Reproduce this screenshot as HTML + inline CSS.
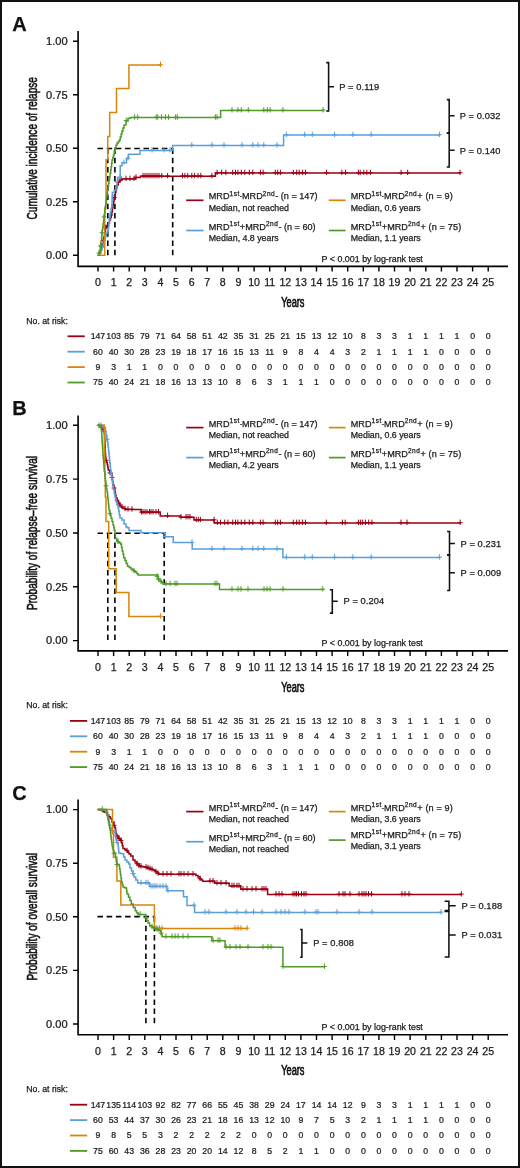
<!DOCTYPE html>
<html><head><meta charset="utf-8"><style>
html,body{margin:0;padding:0;background:#fff;}
svg{display:block;will-change:transform;}
text{font-family:"Liberation Sans", sans-serif;stroke:#1a1a1a;stroke-width:0.25px;}
</style></head><body>
<svg width="520" height="1168" viewBox="0 0 520 1168" font-family='"Liberation Sans", sans-serif'>
<rect x="0" y="0" width="520" height="1168" fill="#fff"/>
<text x="12.3" y="30.9" font-size="20" font-weight="bold" fill="#111">A</text>
<path d="M78.1,31.0 V266.4 H508" fill="none" stroke="#000" stroke-width="1.6"/>
<path d="M73,255.3 H78 M73,201.8 H78 M73,148.3 H78 M73,94.8 H78 M73,41.3 H78 M98.0,266.4 V271.6 M113.6,266.4 V271.6 M129.2,266.4 V271.6 M144.8,266.4 V271.6 M160.4,266.4 V271.6 M176.0,266.4 V271.6 M191.6,266.4 V271.6 M207.2,266.4 V271.6 M222.8,266.4 V271.6 M238.4,266.4 V271.6 M254.1,266.4 V271.6 M269.7,266.4 V271.6 M285.3,266.4 V271.6 M300.9,266.4 V271.6 M316.5,266.4 V271.6 M332.1,266.4 V271.6 M347.7,266.4 V271.6 M363.3,266.4 V271.6 M378.9,266.4 V271.6 M394.5,266.4 V271.6 M410.1,266.4 V271.6 M425.8,266.4 V271.6 M441.4,266.4 V271.6 M457.0,266.4 V271.6 M472.6,266.4 V271.6 M488.2,266.4 V271.6" stroke="#000" stroke-width="1.4" fill="none"/>
<text transform="translate(67.6,259.0) scale(1.045,1)" font-size="10.6" text-anchor="end" fill="#1a1a1a">0.00</text>
<text transform="translate(67.6,205.5) scale(1.045,1)" font-size="10.6" text-anchor="end" fill="#1a1a1a">0.25</text>
<text transform="translate(67.6,152.0) scale(1.045,1)" font-size="10.6" text-anchor="end" fill="#1a1a1a">0.50</text>
<text transform="translate(67.6,98.5) scale(1.045,1)" font-size="10.6" text-anchor="end" fill="#1a1a1a">0.75</text>
<text transform="translate(67.6,45.0) scale(1.045,1)" font-size="10.6" text-anchor="end" fill="#1a1a1a">1.00</text>
<text x="98.0" y="286.3" font-size="10.60" text-anchor="middle" fill="#1a1a1a" >0</text>
<text x="113.6" y="286.3" font-size="10.60" text-anchor="middle" fill="#1a1a1a" >1</text>
<text x="129.2" y="286.3" font-size="10.60" text-anchor="middle" fill="#1a1a1a" >2</text>
<text x="144.8" y="286.3" font-size="10.60" text-anchor="middle" fill="#1a1a1a" >3</text>
<text x="160.4" y="286.3" font-size="10.60" text-anchor="middle" fill="#1a1a1a" >4</text>
<text x="176.0" y="286.3" font-size="10.60" text-anchor="middle" fill="#1a1a1a" >5</text>
<text x="191.6" y="286.3" font-size="10.60" text-anchor="middle" fill="#1a1a1a" >6</text>
<text x="207.2" y="286.3" font-size="10.60" text-anchor="middle" fill="#1a1a1a" >7</text>
<text x="222.8" y="286.3" font-size="10.60" text-anchor="middle" fill="#1a1a1a" >8</text>
<text x="238.4" y="286.3" font-size="10.60" text-anchor="middle" fill="#1a1a1a" >9</text>
<text x="254.1" y="286.3" font-size="10.60" text-anchor="middle" fill="#1a1a1a" >10</text>
<text x="269.7" y="286.3" font-size="10.60" text-anchor="middle" fill="#1a1a1a" >11</text>
<text x="285.3" y="286.3" font-size="10.60" text-anchor="middle" fill="#1a1a1a" >12</text>
<text x="300.9" y="286.3" font-size="10.60" text-anchor="middle" fill="#1a1a1a" >13</text>
<text x="316.5" y="286.3" font-size="10.60" text-anchor="middle" fill="#1a1a1a" >14</text>
<text x="332.1" y="286.3" font-size="10.60" text-anchor="middle" fill="#1a1a1a" >15</text>
<text x="347.7" y="286.3" font-size="10.60" text-anchor="middle" fill="#1a1a1a" >16</text>
<text x="363.3" y="286.3" font-size="10.60" text-anchor="middle" fill="#1a1a1a" >17</text>
<text x="378.9" y="286.3" font-size="10.60" text-anchor="middle" fill="#1a1a1a" >18</text>
<text x="394.5" y="286.3" font-size="10.60" text-anchor="middle" fill="#1a1a1a" >19</text>
<text x="410.1" y="286.3" font-size="10.60" text-anchor="middle" fill="#1a1a1a" >20</text>
<text x="425.8" y="286.3" font-size="10.60" text-anchor="middle" fill="#1a1a1a" >21</text>
<text x="441.4" y="286.3" font-size="10.60" text-anchor="middle" fill="#1a1a1a" >22</text>
<text x="457.0" y="286.3" font-size="10.60" text-anchor="middle" fill="#1a1a1a" >23</text>
<text x="472.6" y="286.3" font-size="10.60" text-anchor="middle" fill="#1a1a1a" >24</text>
<text x="488.2" y="286.3" font-size="10.60" text-anchor="middle" fill="#1a1a1a" >25</text>
<text transform="translate(37.2,148.3) rotate(-90)" x="0" y="0" font-size="14.6" text-anchor="middle" fill="#111" style="stroke:#111;stroke-width:0.6px" textLength="142.2" lengthAdjust="spacingAndGlyphs">Cumulative incidence of relapse</text>
<text x="281.2" y="306.9" font-size="14.4" fill="#111" style="stroke:#111;stroke-width:0.7px" textLength="23.3" lengthAdjust="spacingAndGlyphs">Years</text>
<text x="321.6" y="261.5" font-size="8.90" text-anchor="start" fill="#1a1a1a" >P &lt; 0.001 by log-rank test</text>
<text x="26.3" y="323.8" font-size="8.70" text-anchor="start" fill="#1a1a1a" >No. at risk:</text>
<path d="M97.5,148.5 H172.9 M107.8,148.5 V255.5 M114.9,148.5 V255.5 M172.7,148.5 V255.5" fill="none" stroke="#000" stroke-width="1.6" stroke-dasharray="5.5 3.7"/>
<path d="M98.4,255.3 L99.4,255.3 L99.4,252.5 L100.5,252.5 L100.5,249.8 L101.5,249.8 L101.5,247.0 L102.5,247.0 L102.5,243.5 L103.5,243.5 L103.5,240.0 L104.0,240.0 L104.0,237.0 L104.5,237.0 L104.5,234.0 L105.0,234.0 L105.0,231.0 L105.5,231.0 L105.5,228.0 L106.8,228.0 L106.8,225.5 L108.0,225.5 L108.0,223.0 L109.5,223.0 L109.5,220.0 L110.4,220.0 L110.4,217.5 L111.3,217.5 L111.3,215.0 L111.9,215.0 L111.9,211.5 L112.4,211.5 L112.4,208.1 L113.0,208.1 L113.0,204.6 L113.6,204.6 L113.6,201.4 L114.1,201.4 L114.1,198.2 L114.7,198.2 L114.7,195.0 L115.3,195.0 L115.3,192.5 L115.9,192.5 L115.9,190.0 L116.5,190.0 L116.5,187.5 L117.0,187.5 L117.0,185.0 L118.2,185.0 L118.2,182.0 L119.9,182.0 L119.9,180.0 L122.2,180.0 L122.2,178.9 L135.4,178.9 L135.4,177.6 L140.4,177.6 L140.4,176.2 L215.4,176.2 L215.4,173.0 L460.0,173.0" fill="none" stroke="#9b0014" stroke-width="1.50" stroke-linejoin="miter" stroke-linecap="square"/>
<path d="M101.5,243.7v5.4M99.1,246.7h4.8 M103.3,237.4v5.4M100.9,240.4h4.8 M105.5,224.7v5.4M103.1,227.7h4.8 M114.2,194.5v5.4M111.8,197.5h4.8 M118.0,179.2v5.4M115.6,182.2h4.8 M121.0,176.2v5.4M118.6,179.2h4.8 M126.0,175.6v5.4M123.6,178.6h4.8 M130.0,175.6v5.4M127.6,178.6h4.8 M134.0,175.6v5.4M131.6,178.6h4.8 M136.0,174.3v5.4M133.6,177.3h4.8 M143.0,172.9v5.4M140.6,175.9h4.8 M145.0,172.9v5.4M142.6,175.9h4.8 M147.0,172.9v5.4M144.6,175.9h4.8 M149.0,172.9v5.4M146.6,175.9h4.8 M151.0,172.9v5.4M148.6,175.9h4.8 M153.0,172.9v5.4M150.6,175.9h4.8 M155.0,172.9v5.4M152.6,175.9h4.8 M157.0,172.9v5.4M154.6,175.9h4.8 M159.0,172.9v5.4M156.6,175.9h4.8 M161.7,172.9v5.4M159.3,175.9h4.8 M167.6,172.9v5.4M165.2,175.9h4.8 M182.5,172.9v5.4M180.1,175.9h4.8 M184.9,172.9v5.4M182.5,175.9h4.8 M187.7,172.9v5.4M185.3,175.9h4.8 M191.8,172.9v5.4M189.4,175.9h4.8 M194.6,172.9v5.4M192.2,175.9h4.8 M198.0,172.9v5.4M195.6,175.9h4.8 M200.8,172.9v5.4M198.4,175.9h4.8 M211.9,172.9v5.4M209.5,175.9h4.8 M217.1,169.7v5.4M214.7,172.7h4.8 M221.6,169.7v5.4M219.2,172.7h4.8 M225.8,169.7v5.4M223.4,172.7h4.8 M232.7,169.7v5.4M230.3,172.7h4.8 M235.5,169.7v5.4M233.1,172.7h4.8 M237.9,169.7v5.4M235.5,172.7h4.8 M241.3,169.7v5.4M238.9,172.7h4.8 M244.8,169.7v5.4M242.4,172.7h4.8 M249.3,169.7v5.4M246.9,172.7h4.8 M252.8,169.7v5.4M250.4,172.7h4.8 M260.4,169.7v5.4M258.0,172.7h4.8 M263.1,169.7v5.4M260.7,172.7h4.8 M275.3,169.7v5.4M272.9,172.7h4.8 M277.7,169.7v5.4M275.3,172.7h4.8 M280.4,169.7v5.4M278.0,172.7h4.8 M293.3,169.7v5.4M290.9,172.7h4.8 M296.7,169.7v5.4M294.3,172.7h4.8 M299.2,169.7v5.4M296.8,172.7h4.8 M302.6,169.7v5.4M300.2,172.7h4.8 M305.4,169.7v5.4M303.0,172.7h4.8 M326.6,169.7v5.4M324.2,172.7h4.8 M341.9,169.7v5.4M339.5,172.7h4.8 M345.6,169.7v5.4M343.2,172.7h4.8 M358.4,169.7v5.4M356.0,172.7h4.8 M360.2,169.7v5.4M357.8,172.7h4.8 M363.8,169.7v5.4M361.4,172.7h4.8 M366.8,169.7v5.4M364.4,172.7h4.8 M370.4,169.7v5.4M368.0,172.7h4.8 M401.1,169.7v5.4M398.7,172.7h4.8 M407.7,169.7v5.4M405.3,172.7h4.8 M460.0,169.7v5.4M457.6,172.7h4.8" fill="none" stroke="#9b0014" stroke-width="1.0"/>
<path d="M98.4,255.3 L99.7,255.3 L99.7,252.7 L101.0,252.7 L101.0,250.0 L102.0,250.0 L102.0,246.7 L103.0,246.7 L103.0,243.3 L104.0,243.3 L104.0,240.0 L105.2,240.0 L105.2,236.5 L106.5,236.5 L106.5,233.0 L107.5,233.0 L107.5,230.5 L108.4,230.5 L108.4,228.0 L108.7,228.0 L108.7,225.3 L109.0,225.3 L109.0,222.7 L109.3,222.7 L109.3,220.0 L109.7,220.0 L109.7,217.2 L110.0,217.2 L110.0,214.3 L110.4,214.3 L110.4,211.5 L111.1,211.5 L111.1,208.2 L111.8,208.2 L111.8,205.0 L112.0,205.0 L112.0,201.9 L112.1,201.9 L112.1,198.8 L112.2,198.8 L112.2,195.6 L112.4,195.6 L112.4,192.5 L114.2,192.5 L114.2,189.9 L115.9,189.9 L115.9,187.3 L117.0,187.3 L117.0,183.8 L117.3,183.8 L117.3,180.7 L117.6,180.7 L117.6,177.5 L120.2,177.5 L120.2,165.8 L121.9,165.8 L121.9,162.7 L126.5,162.7 L126.5,158.5 L128.5,158.5 L128.5,154.2 L140.0,154.2 L140.0,150.4 L172.7,150.4 L172.7,145.4 L283.6,145.4 L283.6,135.0 L439.5,135.0" fill="none" stroke="#5a9fda" stroke-width="1.50" stroke-linejoin="miter" stroke-linecap="square"/>
<path d="M120.0,174.2v5.4M117.6,177.2h4.8 M124.0,159.4v5.4M121.6,162.4h4.8 M128.0,155.2v5.4M125.6,158.2h4.8 M152.0,147.1v5.4M149.6,150.1h4.8 M164.0,147.1v5.4M161.6,150.1h4.8 M170.0,147.1v5.4M167.6,150.1h4.8 M191.8,142.1v5.4M189.4,145.1h4.8 M211.9,142.1v5.4M209.5,145.1h4.8 M224.0,142.1v5.4M221.6,145.1h4.8 M242.0,142.1v5.4M239.6,145.1h4.8 M252.8,142.1v5.4M250.4,145.1h4.8 M258.0,142.1v5.4M255.6,145.1h4.8 M263.8,142.1v5.4M261.4,145.1h4.8 M277.0,142.1v5.4M274.6,145.1h4.8 M286.3,131.7v5.4M283.9,134.7h4.8 M304.7,131.7v5.4M302.3,134.7h4.8 M312.3,131.7v5.4M309.9,134.7h4.8 M334.6,131.7v5.4M332.2,134.7h4.8 M352.9,131.7v5.4M350.5,134.7h4.8 M371.2,131.7v5.4M368.8,134.7h4.8 M439.5,131.7v5.4M437.1,134.7h4.8" fill="none" stroke="#5a9fda" stroke-width="1.0"/>
<path d="M98.4,255.3 L104.7,255.3 L104.7,207.7 L106.0,207.7 L106.0,159.8 L107.8,159.8 L107.8,136.5 L109.7,136.5 L109.7,112.5 L116.5,112.5 L116.5,88.6 L128.9,88.6 L128.9,65.0 L160.5,65.0" fill="none" stroke="#d9850c" stroke-width="1.50" stroke-linejoin="miter" stroke-linecap="square"/>
<path d="M160.5,61.7v5.4M158.1,64.7h4.8" fill="none" stroke="#d9850c" stroke-width="1.0"/>
<path d="M98.4,255.3 L99.2,255.3 L99.2,252.7 L100.0,252.7 L100.0,250.0 L100.4,250.0 L100.4,247.0 L100.8,247.0 L100.8,244.0 L101.1,244.0 L101.1,241.0 L101.5,241.0 L101.5,238.0 L101.8,238.0 L101.8,235.3 L102.0,235.3 L102.0,232.7 L102.3,232.7 L102.3,230.0 L102.7,230.0 L102.7,227.0 L103.1,227.0 L103.1,224.0 L103.5,224.0 L103.5,221.0 L103.9,221.0 L103.9,218.0 L104.3,218.0 L104.3,215.0 L104.7,215.0 L104.7,212.0 L105.0,212.0 L105.0,209.0 L105.4,209.0 L105.4,206.0 L105.7,206.0 L105.7,203.0 L106.1,203.0 L106.1,200.0 L106.6,200.0 L106.6,196.7 L107.0,196.7 L107.0,193.3 L107.5,193.3 L107.5,190.0 L108.0,190.0 L108.0,186.7 L108.5,186.7 L108.5,183.3 L109.0,183.3 L109.0,180.0 L109.6,180.0 L109.6,176.7 L110.1,176.7 L110.1,173.3 L110.7,173.3 L110.7,170.0 L111.1,170.0 L111.1,166.7 L111.6,166.7 L111.6,163.3 L112.0,163.3 L112.0,160.0 L112.8,160.0 L112.8,157.5 L113.5,157.5 L113.5,155.0 L114.2,155.0 L114.2,151.3 L115.0,151.3 L115.0,147.7 L116.0,147.7 L116.0,145.3 L117.0,145.3 L117.0,143.0 L118.2,143.0 L118.2,141.5 L119.5,141.5 L119.5,140.0 L120.3,140.0 L120.3,137.0 L121.2,137.0 L121.2,134.0 L122.0,134.0 L122.0,131.0 L123.0,131.0 L123.0,128.0 L124.0,128.0 L124.0,125.0 L126.0,125.0 L126.0,121.0 L128.0,121.0 L128.0,118.5 L129.5,118.5 L129.5,118.0 L131.0,118.0 L131.0,117.6 L220.6,117.6 L220.6,110.4 L323.1,110.4" fill="none" stroke="#519a2a" stroke-width="1.50" stroke-linejoin="miter" stroke-linecap="square"/>
<path d="M99.0,250.0v5.4M96.6,253.0h4.8 M100.5,242.7v5.4M98.1,245.7h4.8 M102.0,229.7v5.4M99.6,232.7h4.8 M104.0,213.9v5.4M101.6,216.9h4.8 M126.2,117.5v5.4M123.8,120.5h4.8 M134.6,114.3v5.4M132.2,117.3h4.8 M137.7,114.3v5.4M135.3,117.3h4.8 M156.2,114.3v5.4M153.8,117.3h4.8 M157.7,114.3v5.4M155.3,117.3h4.8 M161.5,114.3v5.4M159.1,117.3h4.8 M165.4,114.3v5.4M163.0,117.3h4.8 M168.5,114.3v5.4M166.1,117.3h4.8 M175.6,114.3v5.4M173.2,117.3h4.8 M177.3,114.3v5.4M174.9,117.3h4.8 M215.4,114.3v5.4M213.0,117.3h4.8 M217.1,114.3v5.4M214.7,117.3h4.8 M232.0,107.1v5.4M229.6,110.1h4.8 M237.9,107.1v5.4M235.5,110.1h4.8 M241.3,107.1v5.4M238.9,110.1h4.8 M248.3,107.1v5.4M245.9,110.1h4.8 M263.8,107.1v5.4M261.4,110.1h4.8 M267.3,107.1v5.4M264.9,110.1h4.8 M270.1,107.1v5.4M267.7,110.1h4.8 M282.9,107.1v5.4M280.5,110.1h4.8 M323.1,107.1v5.4M320.7,110.1h4.8" fill="none" stroke="#519a2a" stroke-width="1.0"/>
<path d="M186.2,200.3 H203.5" stroke="#9b0014" stroke-width="1.7"/>
<text x="208.8" y="199.4" font-size="9.10" text-anchor="start" fill="#1a1a1a" >MRD<tspan font-size="6.5" letter-spacing="0.55" dy="-3.5">1st</tspan><tspan dy="2.4" font-size="6.6">-</tspan><tspan dy="1.1">MRD</tspan><tspan font-size="6.5" letter-spacing="0.55" dy="-3.5">2nd</tspan><tspan dy="3.5">- (n = 147)</tspan></text>
<text x="208.8" y="210.5" font-size="8.80" text-anchor="start" fill="#1a1a1a" >Median, not reached</text>
<path d="M328.8,200.3 H345.6" stroke="#d9850c" stroke-width="1.7"/>
<text x="350.8" y="199.4" font-size="9.10" text-anchor="start" fill="#1a1a1a" >MRD<tspan font-size="6.5" letter-spacing="0.55" dy="-3.5">1st</tspan><tspan dy="2.4" font-size="6.6">-</tspan><tspan dy="1.1">MRD</tspan><tspan font-size="6.5" letter-spacing="0.55" dy="-3.5">2nd</tspan><tspan dy="3.5" letter-spacing="0.15">+ (n = 9)</tspan></text>
<text x="350.8" y="210.5" font-size="8.80" text-anchor="start" fill="#1a1a1a" >Median, 0.6 years</text>
<path d="M186.2,230.5 H203.5" stroke="#5a9fda" stroke-width="1.7"/>
<text x="208.8" y="229.6" font-size="9.10" text-anchor="start" fill="#1a1a1a" >MRD<tspan font-size="6.5" letter-spacing="0.55" dy="-3.5">1st</tspan><tspan dy="3.5">+</tspan>MRD<tspan font-size="6.5" letter-spacing="0.55" dy="-3.5">2nd</tspan><tspan dy="3.5">- (n = 60)</tspan></text>
<text x="208.8" y="240.7" font-size="8.80" text-anchor="start" fill="#1a1a1a" >Median, 4.8 years</text>
<path d="M328.8,230.5 H345.6" stroke="#519a2a" stroke-width="1.7"/>
<text x="350.8" y="229.6" font-size="9.10" text-anchor="start" fill="#1a1a1a" >MRD<tspan font-size="6.5" letter-spacing="0.55" dy="-3.5">1st</tspan><tspan dy="3.5">+</tspan>MRD<tspan font-size="6.5" letter-spacing="0.55" dy="-3.5">2nd</tspan><tspan dy="3.5" letter-spacing="0.15">+ (n = 75)</tspan></text>
<text x="350.8" y="240.7" font-size="8.80" text-anchor="start" fill="#1a1a1a" >Median, 1.1 years</text>
<path d="M326.2,62.6 H328.6 V111.0 H326.2 M328.6,86.8 H334.0" fill="none" stroke="#111" stroke-width="1.55"/>
<text x="339.2" y="90.0" font-size="9.30" text-anchor="start" fill="#1a1a1a" letter-spacing="0.1">P = 0.119</text>
<path d="M446.8,99.6 H449.2 V133.1 H446.8 M449.2,115.8 H454.6" fill="none" stroke="#111" stroke-width="1.55"/>
<text x="459.8" y="119.0" font-size="9.30" text-anchor="start" fill="#1a1a1a" letter-spacing="0.1">P = 0.032</text>
<path d="M446.8,133.1 H449.2 V166.9 H446.8 M449.2,150.3 H454.6" fill="none" stroke="#111" stroke-width="1.55"/>
<text x="459.8" y="153.5" font-size="9.30" text-anchor="start" fill="#1a1a1a" letter-spacing="0.1">P = 0.140</text>
<path d="M67.5,336.3 h17.3" stroke="#9b0014" stroke-width="1.8"/>
<text transform="translate(97.95,339.2) scale(0.93,1)" font-size="9.4" text-anchor="middle" fill="#1a1a1a">147</text>
<text transform="translate(113.56,339.2) scale(0.93,1)" font-size="9.4" text-anchor="middle" fill="#1a1a1a">103</text>
<text transform="translate(129.17,339.2) scale(0.93,1)" font-size="9.4" text-anchor="middle" fill="#1a1a1a">85</text>
<text transform="translate(144.78,339.2) scale(0.93,1)" font-size="9.4" text-anchor="middle" fill="#1a1a1a">79</text>
<text transform="translate(160.39,339.2) scale(0.93,1)" font-size="9.4" text-anchor="middle" fill="#1a1a1a">71</text>
<text transform="translate(176.00,339.2) scale(0.93,1)" font-size="9.4" text-anchor="middle" fill="#1a1a1a">64</text>
<text transform="translate(191.61,339.2) scale(0.93,1)" font-size="9.4" text-anchor="middle" fill="#1a1a1a">58</text>
<text transform="translate(207.22,339.2) scale(0.93,1)" font-size="9.4" text-anchor="middle" fill="#1a1a1a">51</text>
<text transform="translate(222.83,339.2) scale(0.93,1)" font-size="9.4" text-anchor="middle" fill="#1a1a1a">42</text>
<text transform="translate(238.44,339.2) scale(0.93,1)" font-size="9.4" text-anchor="middle" fill="#1a1a1a">35</text>
<text transform="translate(254.05,339.2) scale(0.93,1)" font-size="9.4" text-anchor="middle" fill="#1a1a1a">31</text>
<text transform="translate(269.66,339.2) scale(0.93,1)" font-size="9.4" text-anchor="middle" fill="#1a1a1a">25</text>
<text transform="translate(285.27,339.2) scale(0.93,1)" font-size="9.4" text-anchor="middle" fill="#1a1a1a">21</text>
<text transform="translate(300.88,339.2) scale(0.93,1)" font-size="9.4" text-anchor="middle" fill="#1a1a1a">15</text>
<text transform="translate(316.49,339.2) scale(0.93,1)" font-size="9.4" text-anchor="middle" fill="#1a1a1a">13</text>
<text transform="translate(332.10,339.2) scale(0.93,1)" font-size="9.4" text-anchor="middle" fill="#1a1a1a">12</text>
<text transform="translate(347.71,339.2) scale(0.93,1)" font-size="9.4" text-anchor="middle" fill="#1a1a1a">10</text>
<text transform="translate(363.32,339.2) scale(0.93,1)" font-size="9.4" text-anchor="middle" fill="#1a1a1a">8</text>
<text transform="translate(378.93,339.2) scale(0.93,1)" font-size="9.4" text-anchor="middle" fill="#1a1a1a">3</text>
<text transform="translate(394.54,339.2) scale(0.93,1)" font-size="9.4" text-anchor="middle" fill="#1a1a1a">3</text>
<text transform="translate(410.15,339.2) scale(0.93,1)" font-size="9.4" text-anchor="middle" fill="#1a1a1a">1</text>
<text transform="translate(425.76,339.2) scale(0.93,1)" font-size="9.4" text-anchor="middle" fill="#1a1a1a">1</text>
<text transform="translate(441.37,339.2) scale(0.93,1)" font-size="9.4" text-anchor="middle" fill="#1a1a1a">1</text>
<text transform="translate(456.98,339.2) scale(0.93,1)" font-size="9.4" text-anchor="middle" fill="#1a1a1a">1</text>
<text transform="translate(472.59,339.2) scale(0.93,1)" font-size="9.4" text-anchor="middle" fill="#1a1a1a">0</text>
<text transform="translate(488.20,339.2) scale(0.93,1)" font-size="9.4" text-anchor="middle" fill="#1a1a1a">0</text>
<path d="M67.5,351.7 h17.3" stroke="#5a9fda" stroke-width="1.8"/>
<text transform="translate(97.95,354.6) scale(0.93,1)" font-size="9.4" text-anchor="middle" fill="#1a1a1a">60</text>
<text transform="translate(113.56,354.6) scale(0.93,1)" font-size="9.4" text-anchor="middle" fill="#1a1a1a">40</text>
<text transform="translate(129.17,354.6) scale(0.93,1)" font-size="9.4" text-anchor="middle" fill="#1a1a1a">30</text>
<text transform="translate(144.78,354.6) scale(0.93,1)" font-size="9.4" text-anchor="middle" fill="#1a1a1a">28</text>
<text transform="translate(160.39,354.6) scale(0.93,1)" font-size="9.4" text-anchor="middle" fill="#1a1a1a">23</text>
<text transform="translate(176.00,354.6) scale(0.93,1)" font-size="9.4" text-anchor="middle" fill="#1a1a1a">19</text>
<text transform="translate(191.61,354.6) scale(0.93,1)" font-size="9.4" text-anchor="middle" fill="#1a1a1a">18</text>
<text transform="translate(207.22,354.6) scale(0.93,1)" font-size="9.4" text-anchor="middle" fill="#1a1a1a">17</text>
<text transform="translate(222.83,354.6) scale(0.93,1)" font-size="9.4" text-anchor="middle" fill="#1a1a1a">16</text>
<text transform="translate(238.44,354.6) scale(0.93,1)" font-size="9.4" text-anchor="middle" fill="#1a1a1a">15</text>
<text transform="translate(254.05,354.6) scale(0.93,1)" font-size="9.4" text-anchor="middle" fill="#1a1a1a">13</text>
<text transform="translate(269.66,354.6) scale(0.93,1)" font-size="9.4" text-anchor="middle" fill="#1a1a1a">11</text>
<text transform="translate(285.27,354.6) scale(0.93,1)" font-size="9.4" text-anchor="middle" fill="#1a1a1a">9</text>
<text transform="translate(300.88,354.6) scale(0.93,1)" font-size="9.4" text-anchor="middle" fill="#1a1a1a">8</text>
<text transform="translate(316.49,354.6) scale(0.93,1)" font-size="9.4" text-anchor="middle" fill="#1a1a1a">4</text>
<text transform="translate(332.10,354.6) scale(0.93,1)" font-size="9.4" text-anchor="middle" fill="#1a1a1a">4</text>
<text transform="translate(347.71,354.6) scale(0.93,1)" font-size="9.4" text-anchor="middle" fill="#1a1a1a">3</text>
<text transform="translate(363.32,354.6) scale(0.93,1)" font-size="9.4" text-anchor="middle" fill="#1a1a1a">2</text>
<text transform="translate(378.93,354.6) scale(0.93,1)" font-size="9.4" text-anchor="middle" fill="#1a1a1a">1</text>
<text transform="translate(394.54,354.6) scale(0.93,1)" font-size="9.4" text-anchor="middle" fill="#1a1a1a">1</text>
<text transform="translate(410.15,354.6) scale(0.93,1)" font-size="9.4" text-anchor="middle" fill="#1a1a1a">1</text>
<text transform="translate(425.76,354.6) scale(0.93,1)" font-size="9.4" text-anchor="middle" fill="#1a1a1a">1</text>
<text transform="translate(441.37,354.6) scale(0.93,1)" font-size="9.4" text-anchor="middle" fill="#1a1a1a">0</text>
<text transform="translate(456.98,354.6) scale(0.93,1)" font-size="9.4" text-anchor="middle" fill="#1a1a1a">0</text>
<text transform="translate(472.59,354.6) scale(0.93,1)" font-size="9.4" text-anchor="middle" fill="#1a1a1a">0</text>
<text transform="translate(488.20,354.6) scale(0.93,1)" font-size="9.4" text-anchor="middle" fill="#1a1a1a">0</text>
<path d="M67.5,367.1 h17.3" stroke="#d9850c" stroke-width="1.8"/>
<text transform="translate(97.95,370.0) scale(0.93,1)" font-size="9.4" text-anchor="middle" fill="#1a1a1a">9</text>
<text transform="translate(113.56,370.0) scale(0.93,1)" font-size="9.4" text-anchor="middle" fill="#1a1a1a">3</text>
<text transform="translate(129.17,370.0) scale(0.93,1)" font-size="9.4" text-anchor="middle" fill="#1a1a1a">1</text>
<text transform="translate(144.78,370.0) scale(0.93,1)" font-size="9.4" text-anchor="middle" fill="#1a1a1a">1</text>
<text transform="translate(160.39,370.0) scale(0.93,1)" font-size="9.4" text-anchor="middle" fill="#1a1a1a">0</text>
<text transform="translate(176.00,370.0) scale(0.93,1)" font-size="9.4" text-anchor="middle" fill="#1a1a1a">0</text>
<text transform="translate(191.61,370.0) scale(0.93,1)" font-size="9.4" text-anchor="middle" fill="#1a1a1a">0</text>
<text transform="translate(207.22,370.0) scale(0.93,1)" font-size="9.4" text-anchor="middle" fill="#1a1a1a">0</text>
<text transform="translate(222.83,370.0) scale(0.93,1)" font-size="9.4" text-anchor="middle" fill="#1a1a1a">0</text>
<text transform="translate(238.44,370.0) scale(0.93,1)" font-size="9.4" text-anchor="middle" fill="#1a1a1a">0</text>
<text transform="translate(254.05,370.0) scale(0.93,1)" font-size="9.4" text-anchor="middle" fill="#1a1a1a">0</text>
<text transform="translate(269.66,370.0) scale(0.93,1)" font-size="9.4" text-anchor="middle" fill="#1a1a1a">0</text>
<text transform="translate(285.27,370.0) scale(0.93,1)" font-size="9.4" text-anchor="middle" fill="#1a1a1a">0</text>
<text transform="translate(300.88,370.0) scale(0.93,1)" font-size="9.4" text-anchor="middle" fill="#1a1a1a">0</text>
<text transform="translate(316.49,370.0) scale(0.93,1)" font-size="9.4" text-anchor="middle" fill="#1a1a1a">0</text>
<text transform="translate(332.10,370.0) scale(0.93,1)" font-size="9.4" text-anchor="middle" fill="#1a1a1a">0</text>
<text transform="translate(347.71,370.0) scale(0.93,1)" font-size="9.4" text-anchor="middle" fill="#1a1a1a">0</text>
<text transform="translate(363.32,370.0) scale(0.93,1)" font-size="9.4" text-anchor="middle" fill="#1a1a1a">0</text>
<text transform="translate(378.93,370.0) scale(0.93,1)" font-size="9.4" text-anchor="middle" fill="#1a1a1a">0</text>
<text transform="translate(394.54,370.0) scale(0.93,1)" font-size="9.4" text-anchor="middle" fill="#1a1a1a">0</text>
<text transform="translate(410.15,370.0) scale(0.93,1)" font-size="9.4" text-anchor="middle" fill="#1a1a1a">0</text>
<text transform="translate(425.76,370.0) scale(0.93,1)" font-size="9.4" text-anchor="middle" fill="#1a1a1a">0</text>
<text transform="translate(441.37,370.0) scale(0.93,1)" font-size="9.4" text-anchor="middle" fill="#1a1a1a">0</text>
<text transform="translate(456.98,370.0) scale(0.93,1)" font-size="9.4" text-anchor="middle" fill="#1a1a1a">0</text>
<text transform="translate(472.59,370.0) scale(0.93,1)" font-size="9.4" text-anchor="middle" fill="#1a1a1a">0</text>
<text transform="translate(488.20,370.0) scale(0.93,1)" font-size="9.4" text-anchor="middle" fill="#1a1a1a">0</text>
<path d="M67.5,382.5 h17.3" stroke="#519a2a" stroke-width="1.8"/>
<text transform="translate(97.95,385.4) scale(0.93,1)" font-size="9.4" text-anchor="middle" fill="#1a1a1a">75</text>
<text transform="translate(113.56,385.4) scale(0.93,1)" font-size="9.4" text-anchor="middle" fill="#1a1a1a">40</text>
<text transform="translate(129.17,385.4) scale(0.93,1)" font-size="9.4" text-anchor="middle" fill="#1a1a1a">24</text>
<text transform="translate(144.78,385.4) scale(0.93,1)" font-size="9.4" text-anchor="middle" fill="#1a1a1a">21</text>
<text transform="translate(160.39,385.4) scale(0.93,1)" font-size="9.4" text-anchor="middle" fill="#1a1a1a">18</text>
<text transform="translate(176.00,385.4) scale(0.93,1)" font-size="9.4" text-anchor="middle" fill="#1a1a1a">16</text>
<text transform="translate(191.61,385.4) scale(0.93,1)" font-size="9.4" text-anchor="middle" fill="#1a1a1a">13</text>
<text transform="translate(207.22,385.4) scale(0.93,1)" font-size="9.4" text-anchor="middle" fill="#1a1a1a">13</text>
<text transform="translate(222.83,385.4) scale(0.93,1)" font-size="9.4" text-anchor="middle" fill="#1a1a1a">10</text>
<text transform="translate(238.44,385.4) scale(0.93,1)" font-size="9.4" text-anchor="middle" fill="#1a1a1a">8</text>
<text transform="translate(254.05,385.4) scale(0.93,1)" font-size="9.4" text-anchor="middle" fill="#1a1a1a">6</text>
<text transform="translate(269.66,385.4) scale(0.93,1)" font-size="9.4" text-anchor="middle" fill="#1a1a1a">3</text>
<text transform="translate(285.27,385.4) scale(0.93,1)" font-size="9.4" text-anchor="middle" fill="#1a1a1a">1</text>
<text transform="translate(300.88,385.4) scale(0.93,1)" font-size="9.4" text-anchor="middle" fill="#1a1a1a">1</text>
<text transform="translate(316.49,385.4) scale(0.93,1)" font-size="9.4" text-anchor="middle" fill="#1a1a1a">1</text>
<text transform="translate(332.10,385.4) scale(0.93,1)" font-size="9.4" text-anchor="middle" fill="#1a1a1a">0</text>
<text transform="translate(347.71,385.4) scale(0.93,1)" font-size="9.4" text-anchor="middle" fill="#1a1a1a">0</text>
<text transform="translate(363.32,385.4) scale(0.93,1)" font-size="9.4" text-anchor="middle" fill="#1a1a1a">0</text>
<text transform="translate(378.93,385.4) scale(0.93,1)" font-size="9.4" text-anchor="middle" fill="#1a1a1a">0</text>
<text transform="translate(394.54,385.4) scale(0.93,1)" font-size="9.4" text-anchor="middle" fill="#1a1a1a">0</text>
<text transform="translate(410.15,385.4) scale(0.93,1)" font-size="9.4" text-anchor="middle" fill="#1a1a1a">0</text>
<text transform="translate(425.76,385.4) scale(0.93,1)" font-size="9.4" text-anchor="middle" fill="#1a1a1a">0</text>
<text transform="translate(441.37,385.4) scale(0.93,1)" font-size="9.4" text-anchor="middle" fill="#1a1a1a">0</text>
<text transform="translate(456.98,385.4) scale(0.93,1)" font-size="9.4" text-anchor="middle" fill="#1a1a1a">0</text>
<text transform="translate(472.59,385.4) scale(0.93,1)" font-size="9.4" text-anchor="middle" fill="#1a1a1a">0</text>
<text transform="translate(488.20,385.4) scale(0.93,1)" font-size="9.4" text-anchor="middle" fill="#1a1a1a">0</text>
<text x="12.3" y="415.3" font-size="20" font-weight="bold" fill="#111">B</text>
<path d="M78.1,415.5 V650.9 H508" fill="none" stroke="#000" stroke-width="1.6"/>
<path d="M73,640.6 H78 M73,586.8 H78 M73,533.0 H78 M73,479.1 H78 M73,425.3 H78 M98.0,650.9 V656.1 M113.6,650.9 V656.1 M129.2,650.9 V656.1 M144.8,650.9 V656.1 M160.4,650.9 V656.1 M176.0,650.9 V656.1 M191.6,650.9 V656.1 M207.2,650.9 V656.1 M222.8,650.9 V656.1 M238.4,650.9 V656.1 M254.1,650.9 V656.1 M269.7,650.9 V656.1 M285.3,650.9 V656.1 M300.9,650.9 V656.1 M316.5,650.9 V656.1 M332.1,650.9 V656.1 M347.7,650.9 V656.1 M363.3,650.9 V656.1 M378.9,650.9 V656.1 M394.5,650.9 V656.1 M410.1,650.9 V656.1 M425.8,650.9 V656.1 M441.4,650.9 V656.1 M457.0,650.9 V656.1 M472.6,650.9 V656.1 M488.2,650.9 V656.1" stroke="#000" stroke-width="1.4" fill="none"/>
<text transform="translate(67.6,644.3) scale(1.045,1)" font-size="10.6" text-anchor="end" fill="#1a1a1a">0.00</text>
<text transform="translate(67.6,590.5) scale(1.045,1)" font-size="10.6" text-anchor="end" fill="#1a1a1a">0.25</text>
<text transform="translate(67.6,536.7) scale(1.045,1)" font-size="10.6" text-anchor="end" fill="#1a1a1a">0.50</text>
<text transform="translate(67.6,482.8) scale(1.045,1)" font-size="10.6" text-anchor="end" fill="#1a1a1a">0.75</text>
<text transform="translate(67.6,429.0) scale(1.045,1)" font-size="10.6" text-anchor="end" fill="#1a1a1a">1.00</text>
<text x="98.0" y="670.8" font-size="10.60" text-anchor="middle" fill="#1a1a1a" >0</text>
<text x="113.6" y="670.8" font-size="10.60" text-anchor="middle" fill="#1a1a1a" >1</text>
<text x="129.2" y="670.8" font-size="10.60" text-anchor="middle" fill="#1a1a1a" >2</text>
<text x="144.8" y="670.8" font-size="10.60" text-anchor="middle" fill="#1a1a1a" >3</text>
<text x="160.4" y="670.8" font-size="10.60" text-anchor="middle" fill="#1a1a1a" >4</text>
<text x="176.0" y="670.8" font-size="10.60" text-anchor="middle" fill="#1a1a1a" >5</text>
<text x="191.6" y="670.8" font-size="10.60" text-anchor="middle" fill="#1a1a1a" >6</text>
<text x="207.2" y="670.8" font-size="10.60" text-anchor="middle" fill="#1a1a1a" >7</text>
<text x="222.8" y="670.8" font-size="10.60" text-anchor="middle" fill="#1a1a1a" >8</text>
<text x="238.4" y="670.8" font-size="10.60" text-anchor="middle" fill="#1a1a1a" >9</text>
<text x="254.1" y="670.8" font-size="10.60" text-anchor="middle" fill="#1a1a1a" >10</text>
<text x="269.7" y="670.8" font-size="10.60" text-anchor="middle" fill="#1a1a1a" >11</text>
<text x="285.3" y="670.8" font-size="10.60" text-anchor="middle" fill="#1a1a1a" >12</text>
<text x="300.9" y="670.8" font-size="10.60" text-anchor="middle" fill="#1a1a1a" >13</text>
<text x="316.5" y="670.8" font-size="10.60" text-anchor="middle" fill="#1a1a1a" >14</text>
<text x="332.1" y="670.8" font-size="10.60" text-anchor="middle" fill="#1a1a1a" >15</text>
<text x="347.7" y="670.8" font-size="10.60" text-anchor="middle" fill="#1a1a1a" >16</text>
<text x="363.3" y="670.8" font-size="10.60" text-anchor="middle" fill="#1a1a1a" >17</text>
<text x="378.9" y="670.8" font-size="10.60" text-anchor="middle" fill="#1a1a1a" >18</text>
<text x="394.5" y="670.8" font-size="10.60" text-anchor="middle" fill="#1a1a1a" >19</text>
<text x="410.1" y="670.8" font-size="10.60" text-anchor="middle" fill="#1a1a1a" >20</text>
<text x="425.8" y="670.8" font-size="10.60" text-anchor="middle" fill="#1a1a1a" >21</text>
<text x="441.4" y="670.8" font-size="10.60" text-anchor="middle" fill="#1a1a1a" >22</text>
<text x="457.0" y="670.8" font-size="10.60" text-anchor="middle" fill="#1a1a1a" >23</text>
<text x="472.6" y="670.8" font-size="10.60" text-anchor="middle" fill="#1a1a1a" >24</text>
<text x="488.2" y="670.8" font-size="10.60" text-anchor="middle" fill="#1a1a1a" >25</text>
<text transform="translate(37.2,533.0) rotate(-90)" x="0" y="0" font-size="14.6" text-anchor="middle" fill="#111" style="stroke:#111;stroke-width:0.6px" textLength="154.2" lengthAdjust="spacingAndGlyphs">Probability of relapse–free survival</text>
<text x="281.2" y="691.5" font-size="14.4" fill="#111" style="stroke:#111;stroke-width:0.7px" textLength="23.3" lengthAdjust="spacingAndGlyphs">Years</text>
<text x="321.6" y="646.1" font-size="8.90" text-anchor="start" fill="#1a1a1a" >P &lt; 0.001 by log-rank test</text>
<text x="26.3" y="708.4" font-size="8.70" text-anchor="start" fill="#1a1a1a" >No. at risk:</text>
<path d="M97.5,533.2 H164.2 M107.8,533.2 V640.2 M114.9,533.2 V640.2 M164.2,533.2 V640.2" fill="none" stroke="#000" stroke-width="1.6" stroke-dasharray="5.5 3.7"/>
<path d="M98.4,425.3 L99.7,425.3 L99.7,426.1 L101.0,426.1 L101.0,427.0 L102.8,427.0 L102.8,429.5 L104.5,429.5 L104.5,432.0 L104.6,432.0 L104.6,435.2 L104.7,435.2 L104.7,438.4 L104.8,438.4 L104.8,441.6 L104.9,441.6 L104.9,444.8 L105.0,444.8 L105.0,448.0 L105.2,448.0 L105.2,451.0 L105.4,451.0 L105.4,454.0 L105.6,454.0 L105.6,457.0 L105.8,457.0 L105.8,460.0 L106.5,460.0 L106.5,462.5 L107.3,462.5 L107.3,465.0 L107.8,465.0 L107.8,467.5 L108.2,467.5 L108.2,470.0 L109.5,470.0 L109.5,473.0 L111.5,473.0 L111.5,474.0 L111.9,474.0 L111.9,476.8 L112.2,476.8 L112.2,479.5 L112.6,479.5 L112.6,482.2 L113.0,482.2 L113.0,485.0 L113.8,485.0 L113.8,487.5 L114.5,487.5 L114.5,490.0 L115.0,490.0 L115.0,492.7 L115.5,492.7 L115.5,495.3 L116.0,495.3 L116.0,498.0 L117.0,498.0 L117.0,500.5 L118.0,500.5 L118.0,503.0 L120.0,503.0 L120.0,506.0 L121.5,506.0 L121.5,507.0 L123.0,507.0 L123.0,508.0 L124.5,508.0 L124.5,508.8 L126.0,508.8 L126.0,509.5 L141.2,509.5 L141.2,512.3 L160.2,512.3 L160.2,515.9 L180.3,515.9 L180.3,517.3 L194.0,517.3 L194.0,520.1 L214.1,520.1 L214.1,522.9 L460.2,522.9" fill="none" stroke="#9b0014" stroke-width="1.50" stroke-linejoin="miter" stroke-linecap="square"/>
<path d="M104.0,428.0v5.4M101.6,431.0h4.8 M106.0,457.4v5.4M103.6,460.4h4.8 M110.0,469.9v5.4M107.6,472.9h4.8 M112.0,474.4v5.4M109.6,477.4h4.8 M114.0,485.0v5.4M111.6,488.0h4.8 M117.0,497.2v5.4M114.6,500.2h4.8 M119.0,501.2v5.4M116.6,504.2h4.8 M122.0,504.0v5.4M119.6,507.0h4.8 M125.0,505.7v5.4M122.6,508.7h4.8 M128.0,506.2v5.4M125.6,509.2h4.8 M132.0,506.2v5.4M129.6,509.2h4.8 M141.5,509.0v5.4M139.1,512.0h4.8 M143.0,509.0v5.4M140.6,512.0h4.8 M145.0,509.0v5.4M142.6,512.0h4.8 M147.0,509.0v5.4M144.6,512.0h4.8 M149.5,509.0v5.4M147.1,512.0h4.8 M151.0,509.0v5.4M148.6,512.0h4.8 M153.0,509.0v5.4M150.6,512.0h4.8 M156.0,509.0v5.4M153.6,512.0h4.8 M158.5,509.0v5.4M156.1,512.0h4.8 M167.6,512.6v5.4M165.2,515.6h4.8 M181.0,514.0v5.4M178.6,517.0h4.8 M186.0,514.0v5.4M183.6,517.0h4.8 M188.0,514.0v5.4M185.6,517.0h4.8 M190.0,514.0v5.4M187.6,517.0h4.8 M196.2,516.8v5.4M193.8,519.8h4.8 M198.3,516.8v5.4M195.9,519.8h4.8 M200.4,516.8v5.4M198.0,519.8h4.8 M214.1,516.8v5.4M211.7,519.8h4.8 M217.3,519.6v5.4M214.9,522.6h4.8 M220.5,519.6v5.4M218.1,522.6h4.8 M224.7,519.6v5.4M222.3,522.6h4.8 M227.9,519.6v5.4M225.5,522.6h4.8 M232.7,519.6v5.4M230.3,522.6h4.8 M235.5,519.6v5.4M233.1,522.6h4.8 M237.9,519.6v5.4M235.5,522.6h4.8 M241.3,519.6v5.4M238.9,522.6h4.8 M244.8,519.6v5.4M242.4,522.6h4.8 M249.3,519.6v5.4M246.9,522.6h4.8 M252.8,519.6v5.4M250.4,522.6h4.8 M260.4,519.6v5.4M258.0,522.6h4.8 M263.1,519.6v5.4M260.7,522.6h4.8 M275.3,519.6v5.4M272.9,522.6h4.8 M277.7,519.6v5.4M275.3,522.6h4.8 M280.4,519.6v5.4M278.0,522.6h4.8 M293.3,519.6v5.4M290.9,522.6h4.8 M296.7,519.6v5.4M294.3,522.6h4.8 M299.2,519.6v5.4M296.8,522.6h4.8 M302.6,519.6v5.4M300.2,522.6h4.8 M305.4,519.6v5.4M303.0,522.6h4.8 M326.3,519.6v5.4M323.9,522.6h4.8 M342.4,519.6v5.4M340.0,522.6h4.8 M345.2,519.6v5.4M342.8,522.6h4.8 M358.6,519.6v5.4M356.2,522.6h4.8 M360.6,519.6v5.4M358.2,522.6h4.8 M362.6,519.6v5.4M360.2,522.6h4.8 M365.4,519.6v5.4M363.0,522.6h4.8 M368.7,519.6v5.4M366.3,522.6h4.8 M371.9,519.6v5.4M369.5,522.6h4.8 M401.0,519.6v5.4M398.6,522.6h4.8 M407.0,519.6v5.4M404.6,522.6h4.8 M460.2,519.6v5.4M457.8,522.6h4.8" fill="none" stroke="#9b0014" stroke-width="1.0"/>
<path d="M98.4,425.3 L100.5,425.3 L102.5,425.3 L102.5,426.6 L104.5,426.6 L104.5,428.0 L105.2,428.0 L105.2,431.5 L106.0,431.5 L106.0,435.0 L106.8,435.0 L106.8,438.5 L107.5,438.5 L107.5,442.0 L107.8,442.0 L107.8,444.7 L108.2,444.7 L108.2,447.3 L108.5,447.3 L108.5,450.0 L108.8,450.0 L108.8,453.3 L109.2,453.3 L109.2,456.7 L109.5,456.7 L109.5,460.0 L109.8,460.0 L109.8,463.3 L110.2,463.3 L110.2,466.7 L110.5,466.7 L110.5,470.0 L111.0,470.0 L111.0,473.3 L111.5,473.3 L111.5,476.7 L112.0,476.7 L112.0,480.0 L112.5,480.0 L112.5,483.3 L113.0,483.3 L113.0,486.7 L113.5,486.7 L113.5,490.0 L114.2,490.0 L114.2,493.5 L115.0,493.5 L115.0,497.0 L115.7,497.0 L115.7,499.7 L116.3,499.7 L116.3,502.3 L117.0,502.3 L117.0,505.0 L118.0,505.0 L118.0,508.0 L118.7,508.0 L118.7,511.3 L119.3,511.3 L119.3,514.7 L120.0,514.7 L120.0,518.0 L122.0,518.0 L122.0,520.0 L124.0,520.0 L124.0,524.0 L126.0,524.0 L126.0,527.0 L127.5,527.0 L127.5,527.8 L129.0,527.8 L129.0,528.5 L129.0,530.5 L141.0,530.5 L141.0,532.8 L164.2,532.8 L165.2,532.8 L165.2,536.7 L173.2,536.7 L173.2,542.6 L192.2,542.6 L192.2,548.9 L282.9,548.9 L282.9,557.5 L439.6,557.5" fill="none" stroke="#5a9fda" stroke-width="1.50" stroke-linejoin="miter" stroke-linecap="square"/>
<path d="M101.0,422.3v5.4M98.6,425.3h4.8 M104.0,424.4v5.4M101.6,427.4h4.8 M107.0,436.4v5.4M104.6,439.4h4.8 M111.0,470.0v5.4M108.6,473.0h4.8 M165.2,533.4v5.4M162.8,536.4h4.8 M192.0,539.3v5.4M189.6,542.3h4.8 M211.9,545.6v5.4M209.5,548.6h4.8 M224.0,545.6v5.4M221.6,548.6h4.8 M242.0,545.6v5.4M239.6,548.6h4.8 M252.8,545.6v5.4M250.4,548.6h4.8 M258.0,545.6v5.4M255.6,548.6h4.8 M263.8,545.6v5.4M261.4,548.6h4.8 M277.0,545.6v5.4M274.6,548.6h4.8 M286.3,554.2v5.4M283.9,557.2h4.8 M304.7,554.2v5.4M302.3,557.2h4.8 M312.3,554.2v5.4M309.9,557.2h4.8 M334.6,554.2v5.4M332.2,557.2h4.8 M352.9,554.2v5.4M350.5,557.2h4.8 M371.2,554.2v5.4M368.8,557.2h4.8 M439.6,554.2v5.4M437.2,557.2h4.8" fill="none" stroke="#5a9fda" stroke-width="1.0"/>
<path d="M98.4,425.3 L104.3,425.3 L104.3,449.0 L104.8,449.0 L104.8,473.0 L105.3,473.0 L105.3,497.0 L106.0,497.0 L106.0,521.5 L108.7,521.5 L108.7,568.7 L116.2,568.7 L116.2,592.6 L128.9,592.6 L128.9,616.6 L160.6,616.6" fill="none" stroke="#d9850c" stroke-width="1.50" stroke-linejoin="miter" stroke-linecap="square"/>
<path d="M160.6,613.3v5.4M158.2,616.3h4.8" fill="none" stroke="#d9850c" stroke-width="1.0"/>
<path d="M98.4,425.3 L99.8,425.3 L99.8,426.6 L101.3,426.6 L101.3,428.0 L101.5,428.0 L101.5,431.0 L101.7,431.0 L101.7,434.0 L101.8,434.0 L101.8,437.0 L102.0,437.0 L102.0,440.0 L102.2,440.0 L102.2,443.0 L102.4,443.0 L102.4,446.0 L102.6,446.0 L102.6,449.0 L102.8,449.0 L102.8,452.0 L103.0,452.0 L103.0,455.0 L103.2,455.0 L103.2,458.2 L103.5,458.2 L103.5,461.5 L103.8,461.5 L103.8,464.8 L104.0,464.8 L104.0,468.0 L104.3,468.0 L104.3,471.3 L104.7,471.3 L104.7,474.7 L105.0,474.7 L105.0,478.0 L105.3,478.0 L105.3,480.7 L105.7,480.7 L105.7,483.3 L106.0,483.3 L106.0,486.0 L106.5,486.0 L106.5,489.0 L107.0,489.0 L107.0,492.0 L107.5,492.0 L107.5,495.0 L107.8,495.0 L107.8,498.0 L108.1,498.0 L108.1,501.0 L108.4,501.0 L108.4,504.0 L108.7,504.0 L108.7,507.0 L109.0,507.0 L109.0,510.0 L109.7,510.0 L109.7,512.7 L110.3,512.7 L110.3,515.3 L111.0,515.3 L111.0,518.0 L112.0,518.0 L112.0,521.5 L113.0,521.5 L113.0,525.0 L113.7,525.0 L113.7,527.7 L114.3,527.7 L114.3,530.3 L115.0,530.3 L115.0,533.0 L115.2,533.0 L115.2,535.8 L115.5,535.8 L115.5,538.5 L116.8,538.5 L116.8,540.2 L118.0,540.2 L118.0,542.0 L119.4,542.0 L119.4,543.1 L120.8,543.1 L120.8,544.2 L121.5,544.2 L121.5,547.6 L122.2,547.6 L122.2,551.0 L123.0,551.0 L123.0,554.3 L123.7,554.3 L123.7,557.7 L125.0,557.7 L125.0,560.6 L126.2,560.6 L126.2,563.4 L127.5,563.4 L127.5,566.3 L129.2,566.3 L129.2,567.6 L131.0,567.6 L131.0,569.0 L132.4,569.0 L132.4,570.0 L133.8,570.0 L133.8,571.1 L135.2,571.1 L135.2,572.1 L136.6,572.1 L136.6,573.5 L138.0,573.5 L138.0,575.0 L156.3,575.0 L158.0,575.0 L158.0,579.0 L160.0,579.0 L160.0,581.0 L161.5,581.0 L161.5,582.5 L163.0,582.5 L163.0,584.0 L219.5,584.0 L219.5,589.5 L322.8,589.5" fill="none" stroke="#519a2a" stroke-width="1.50" stroke-linejoin="miter" stroke-linecap="square"/>
<path d="M99.0,422.6v5.4M96.6,425.6h4.8 M101.0,424.4v5.4M98.6,427.4h4.8 M106.0,482.7v5.4M103.6,485.7h4.8 M110.0,510.7v5.4M107.6,513.7h4.8 M118.0,538.7v5.4M115.6,541.7h4.8 M134.0,567.9v5.4M131.6,570.9h4.8 M157.0,573.3v5.4M154.6,576.3h4.8 M158.5,576.2v5.4M156.1,579.2h4.8 M161.0,578.7v5.4M158.6,581.7h4.8 M166.0,580.7v5.4M163.6,583.7h4.8 M170.0,580.7v5.4M167.6,583.7h4.8 M175.0,580.7v5.4M172.6,583.7h4.8 M177.0,580.7v5.4M174.6,583.7h4.8 M215.0,580.7v5.4M212.6,583.7h4.8 M217.0,580.7v5.4M214.6,583.7h4.8 M232.0,586.2v5.4M229.6,589.2h4.8 M238.0,586.2v5.4M235.6,589.2h4.8 M241.0,586.2v5.4M238.6,589.2h4.8 M248.0,586.2v5.4M245.6,589.2h4.8 M264.0,586.2v5.4M261.6,589.2h4.8 M267.0,586.2v5.4M264.6,589.2h4.8 M270.0,586.2v5.4M267.6,589.2h4.8 M283.0,586.2v5.4M280.6,589.2h4.8 M322.8,586.2v5.4M320.4,589.2h4.8" fill="none" stroke="#519a2a" stroke-width="1.0"/>
<path d="M186.2,427.6 H203.5" stroke="#9b0014" stroke-width="1.7"/>
<text x="208.8" y="426.7" font-size="9.10" text-anchor="start" fill="#1a1a1a" >MRD<tspan font-size="6.5" letter-spacing="0.55" dy="-3.5">1st</tspan><tspan dy="2.4" font-size="6.6">-</tspan><tspan dy="1.1">MRD</tspan><tspan font-size="6.5" letter-spacing="0.55" dy="-3.5">2nd</tspan><tspan dy="3.5">- (n = 147)</tspan></text>
<text x="208.8" y="437.8" font-size="8.80" text-anchor="start" fill="#1a1a1a" >Median, not reached</text>
<path d="M328.8,427.6 H345.6" stroke="#d9850c" stroke-width="1.7"/>
<text x="350.8" y="426.7" font-size="9.10" text-anchor="start" fill="#1a1a1a" >MRD<tspan font-size="6.5" letter-spacing="0.55" dy="-3.5">1st</tspan><tspan dy="2.4" font-size="6.6">-</tspan><tspan dy="1.1">MRD</tspan><tspan font-size="6.5" letter-spacing="0.55" dy="-3.5">2nd</tspan><tspan dy="3.5" letter-spacing="0.15">+ (n = 9)</tspan></text>
<text x="350.8" y="437.8" font-size="8.80" text-anchor="start" fill="#1a1a1a" >Median, 0.6 years</text>
<path d="M186.2,457.6 H203.5" stroke="#5a9fda" stroke-width="1.7"/>
<text x="208.8" y="456.7" font-size="9.10" text-anchor="start" fill="#1a1a1a" >MRD<tspan font-size="6.5" letter-spacing="0.55" dy="-3.5">1st</tspan><tspan dy="3.5">+</tspan>MRD<tspan font-size="6.5" letter-spacing="0.55" dy="-3.5">2nd</tspan><tspan dy="3.5">- (n = 60)</tspan></text>
<text x="208.8" y="467.8" font-size="8.80" text-anchor="start" fill="#1a1a1a" >Median, 4.2 years</text>
<path d="M328.8,457.6 H345.6" stroke="#519a2a" stroke-width="1.7"/>
<text x="350.8" y="456.7" font-size="9.10" text-anchor="start" fill="#1a1a1a" >MRD<tspan font-size="6.5" letter-spacing="0.55" dy="-3.5">1st</tspan><tspan dy="3.5">+</tspan>MRD<tspan font-size="6.5" letter-spacing="0.55" dy="-3.5">2nd</tspan><tspan dy="3.5" letter-spacing="0.15">+ (n = 75)</tspan></text>
<text x="350.8" y="467.8" font-size="8.80" text-anchor="start" fill="#1a1a1a" >Median, 1.1 years</text>
<path d="M447.1,531.5 H449.5 V555.1 H447.1 M449.5,543.5 H454.9" fill="none" stroke="#111" stroke-width="1.55"/>
<text x="460.6" y="546.7" font-size="9.30" text-anchor="start" fill="#1a1a1a" letter-spacing="0.1">P = 0.231</text>
<path d="M447.1,555.1 H449.5 V590.5 H447.1 M449.5,572.8 H454.9" fill="none" stroke="#111" stroke-width="1.55"/>
<text x="460.6" y="576.0" font-size="9.30" text-anchor="start" fill="#1a1a1a" letter-spacing="0.1">P = 0.009</text>
<path d="M329.9,589.7 H332.3 V613.1 H329.9 M332.3,601.2 H337.7" fill="none" stroke="#111" stroke-width="1.55"/>
<text x="343.6" y="604.4" font-size="9.30" text-anchor="start" fill="#1a1a1a" letter-spacing="0.1">P = 0.204</text>
<path d="M69.9,720.9 h17.3" stroke="#9b0014" stroke-width="1.8"/>
<text transform="translate(97.95,723.8) scale(0.93,1)" font-size="9.4" text-anchor="middle" fill="#1a1a1a">147</text>
<text transform="translate(113.56,723.8) scale(0.93,1)" font-size="9.4" text-anchor="middle" fill="#1a1a1a">103</text>
<text transform="translate(129.17,723.8) scale(0.93,1)" font-size="9.4" text-anchor="middle" fill="#1a1a1a">85</text>
<text transform="translate(144.78,723.8) scale(0.93,1)" font-size="9.4" text-anchor="middle" fill="#1a1a1a">79</text>
<text transform="translate(160.39,723.8) scale(0.93,1)" font-size="9.4" text-anchor="middle" fill="#1a1a1a">71</text>
<text transform="translate(176.00,723.8) scale(0.93,1)" font-size="9.4" text-anchor="middle" fill="#1a1a1a">64</text>
<text transform="translate(191.61,723.8) scale(0.93,1)" font-size="9.4" text-anchor="middle" fill="#1a1a1a">58</text>
<text transform="translate(207.22,723.8) scale(0.93,1)" font-size="9.4" text-anchor="middle" fill="#1a1a1a">51</text>
<text transform="translate(222.83,723.8) scale(0.93,1)" font-size="9.4" text-anchor="middle" fill="#1a1a1a">42</text>
<text transform="translate(238.44,723.8) scale(0.93,1)" font-size="9.4" text-anchor="middle" fill="#1a1a1a">35</text>
<text transform="translate(254.05,723.8) scale(0.93,1)" font-size="9.4" text-anchor="middle" fill="#1a1a1a">31</text>
<text transform="translate(269.66,723.8) scale(0.93,1)" font-size="9.4" text-anchor="middle" fill="#1a1a1a">25</text>
<text transform="translate(285.27,723.8) scale(0.93,1)" font-size="9.4" text-anchor="middle" fill="#1a1a1a">21</text>
<text transform="translate(300.88,723.8) scale(0.93,1)" font-size="9.4" text-anchor="middle" fill="#1a1a1a">15</text>
<text transform="translate(316.49,723.8) scale(0.93,1)" font-size="9.4" text-anchor="middle" fill="#1a1a1a">13</text>
<text transform="translate(332.10,723.8) scale(0.93,1)" font-size="9.4" text-anchor="middle" fill="#1a1a1a">12</text>
<text transform="translate(347.71,723.8) scale(0.93,1)" font-size="9.4" text-anchor="middle" fill="#1a1a1a">10</text>
<text transform="translate(363.32,723.8) scale(0.93,1)" font-size="9.4" text-anchor="middle" fill="#1a1a1a">8</text>
<text transform="translate(378.93,723.8) scale(0.93,1)" font-size="9.4" text-anchor="middle" fill="#1a1a1a">3</text>
<text transform="translate(394.54,723.8) scale(0.93,1)" font-size="9.4" text-anchor="middle" fill="#1a1a1a">3</text>
<text transform="translate(410.15,723.8) scale(0.93,1)" font-size="9.4" text-anchor="middle" fill="#1a1a1a">1</text>
<text transform="translate(425.76,723.8) scale(0.93,1)" font-size="9.4" text-anchor="middle" fill="#1a1a1a">1</text>
<text transform="translate(441.37,723.8) scale(0.93,1)" font-size="9.4" text-anchor="middle" fill="#1a1a1a">1</text>
<text transform="translate(456.98,723.8) scale(0.93,1)" font-size="9.4" text-anchor="middle" fill="#1a1a1a">1</text>
<text transform="translate(472.59,723.8) scale(0.93,1)" font-size="9.4" text-anchor="middle" fill="#1a1a1a">0</text>
<text transform="translate(488.20,723.8) scale(0.93,1)" font-size="9.4" text-anchor="middle" fill="#1a1a1a">0</text>
<path d="M69.9,736.3 h17.3" stroke="#5a9fda" stroke-width="1.8"/>
<text transform="translate(97.95,739.2) scale(0.93,1)" font-size="9.4" text-anchor="middle" fill="#1a1a1a">60</text>
<text transform="translate(113.56,739.2) scale(0.93,1)" font-size="9.4" text-anchor="middle" fill="#1a1a1a">40</text>
<text transform="translate(129.17,739.2) scale(0.93,1)" font-size="9.4" text-anchor="middle" fill="#1a1a1a">30</text>
<text transform="translate(144.78,739.2) scale(0.93,1)" font-size="9.4" text-anchor="middle" fill="#1a1a1a">28</text>
<text transform="translate(160.39,739.2) scale(0.93,1)" font-size="9.4" text-anchor="middle" fill="#1a1a1a">23</text>
<text transform="translate(176.00,739.2) scale(0.93,1)" font-size="9.4" text-anchor="middle" fill="#1a1a1a">19</text>
<text transform="translate(191.61,739.2) scale(0.93,1)" font-size="9.4" text-anchor="middle" fill="#1a1a1a">18</text>
<text transform="translate(207.22,739.2) scale(0.93,1)" font-size="9.4" text-anchor="middle" fill="#1a1a1a">17</text>
<text transform="translate(222.83,739.2) scale(0.93,1)" font-size="9.4" text-anchor="middle" fill="#1a1a1a">16</text>
<text transform="translate(238.44,739.2) scale(0.93,1)" font-size="9.4" text-anchor="middle" fill="#1a1a1a">15</text>
<text transform="translate(254.05,739.2) scale(0.93,1)" font-size="9.4" text-anchor="middle" fill="#1a1a1a">13</text>
<text transform="translate(269.66,739.2) scale(0.93,1)" font-size="9.4" text-anchor="middle" fill="#1a1a1a">11</text>
<text transform="translate(285.27,739.2) scale(0.93,1)" font-size="9.4" text-anchor="middle" fill="#1a1a1a">9</text>
<text transform="translate(300.88,739.2) scale(0.93,1)" font-size="9.4" text-anchor="middle" fill="#1a1a1a">8</text>
<text transform="translate(316.49,739.2) scale(0.93,1)" font-size="9.4" text-anchor="middle" fill="#1a1a1a">4</text>
<text transform="translate(332.10,739.2) scale(0.93,1)" font-size="9.4" text-anchor="middle" fill="#1a1a1a">4</text>
<text transform="translate(347.71,739.2) scale(0.93,1)" font-size="9.4" text-anchor="middle" fill="#1a1a1a">3</text>
<text transform="translate(363.32,739.2) scale(0.93,1)" font-size="9.4" text-anchor="middle" fill="#1a1a1a">2</text>
<text transform="translate(378.93,739.2) scale(0.93,1)" font-size="9.4" text-anchor="middle" fill="#1a1a1a">1</text>
<text transform="translate(394.54,739.2) scale(0.93,1)" font-size="9.4" text-anchor="middle" fill="#1a1a1a">1</text>
<text transform="translate(410.15,739.2) scale(0.93,1)" font-size="9.4" text-anchor="middle" fill="#1a1a1a">1</text>
<text transform="translate(425.76,739.2) scale(0.93,1)" font-size="9.4" text-anchor="middle" fill="#1a1a1a">1</text>
<text transform="translate(441.37,739.2) scale(0.93,1)" font-size="9.4" text-anchor="middle" fill="#1a1a1a">0</text>
<text transform="translate(456.98,739.2) scale(0.93,1)" font-size="9.4" text-anchor="middle" fill="#1a1a1a">0</text>
<text transform="translate(472.59,739.2) scale(0.93,1)" font-size="9.4" text-anchor="middle" fill="#1a1a1a">0</text>
<text transform="translate(488.20,739.2) scale(0.93,1)" font-size="9.4" text-anchor="middle" fill="#1a1a1a">0</text>
<path d="M69.9,751.7 h17.3" stroke="#d9850c" stroke-width="1.8"/>
<text transform="translate(97.95,754.6) scale(0.93,1)" font-size="9.4" text-anchor="middle" fill="#1a1a1a">9</text>
<text transform="translate(113.56,754.6) scale(0.93,1)" font-size="9.4" text-anchor="middle" fill="#1a1a1a">3</text>
<text transform="translate(129.17,754.6) scale(0.93,1)" font-size="9.4" text-anchor="middle" fill="#1a1a1a">1</text>
<text transform="translate(144.78,754.6) scale(0.93,1)" font-size="9.4" text-anchor="middle" fill="#1a1a1a">1</text>
<text transform="translate(160.39,754.6) scale(0.93,1)" font-size="9.4" text-anchor="middle" fill="#1a1a1a">0</text>
<text transform="translate(176.00,754.6) scale(0.93,1)" font-size="9.4" text-anchor="middle" fill="#1a1a1a">0</text>
<text transform="translate(191.61,754.6) scale(0.93,1)" font-size="9.4" text-anchor="middle" fill="#1a1a1a">0</text>
<text transform="translate(207.22,754.6) scale(0.93,1)" font-size="9.4" text-anchor="middle" fill="#1a1a1a">0</text>
<text transform="translate(222.83,754.6) scale(0.93,1)" font-size="9.4" text-anchor="middle" fill="#1a1a1a">0</text>
<text transform="translate(238.44,754.6) scale(0.93,1)" font-size="9.4" text-anchor="middle" fill="#1a1a1a">0</text>
<text transform="translate(254.05,754.6) scale(0.93,1)" font-size="9.4" text-anchor="middle" fill="#1a1a1a">0</text>
<text transform="translate(269.66,754.6) scale(0.93,1)" font-size="9.4" text-anchor="middle" fill="#1a1a1a">0</text>
<text transform="translate(285.27,754.6) scale(0.93,1)" font-size="9.4" text-anchor="middle" fill="#1a1a1a">0</text>
<text transform="translate(300.88,754.6) scale(0.93,1)" font-size="9.4" text-anchor="middle" fill="#1a1a1a">0</text>
<text transform="translate(316.49,754.6) scale(0.93,1)" font-size="9.4" text-anchor="middle" fill="#1a1a1a">0</text>
<text transform="translate(332.10,754.6) scale(0.93,1)" font-size="9.4" text-anchor="middle" fill="#1a1a1a">0</text>
<text transform="translate(347.71,754.6) scale(0.93,1)" font-size="9.4" text-anchor="middle" fill="#1a1a1a">0</text>
<text transform="translate(363.32,754.6) scale(0.93,1)" font-size="9.4" text-anchor="middle" fill="#1a1a1a">0</text>
<text transform="translate(378.93,754.6) scale(0.93,1)" font-size="9.4" text-anchor="middle" fill="#1a1a1a">0</text>
<text transform="translate(394.54,754.6) scale(0.93,1)" font-size="9.4" text-anchor="middle" fill="#1a1a1a">0</text>
<text transform="translate(410.15,754.6) scale(0.93,1)" font-size="9.4" text-anchor="middle" fill="#1a1a1a">0</text>
<text transform="translate(425.76,754.6) scale(0.93,1)" font-size="9.4" text-anchor="middle" fill="#1a1a1a">0</text>
<text transform="translate(441.37,754.6) scale(0.93,1)" font-size="9.4" text-anchor="middle" fill="#1a1a1a">0</text>
<text transform="translate(456.98,754.6) scale(0.93,1)" font-size="9.4" text-anchor="middle" fill="#1a1a1a">0</text>
<text transform="translate(472.59,754.6) scale(0.93,1)" font-size="9.4" text-anchor="middle" fill="#1a1a1a">0</text>
<text transform="translate(488.20,754.6) scale(0.93,1)" font-size="9.4" text-anchor="middle" fill="#1a1a1a">0</text>
<path d="M69.9,767.1 h17.3" stroke="#519a2a" stroke-width="1.8"/>
<text transform="translate(97.95,770.0) scale(0.93,1)" font-size="9.4" text-anchor="middle" fill="#1a1a1a">75</text>
<text transform="translate(113.56,770.0) scale(0.93,1)" font-size="9.4" text-anchor="middle" fill="#1a1a1a">40</text>
<text transform="translate(129.17,770.0) scale(0.93,1)" font-size="9.4" text-anchor="middle" fill="#1a1a1a">24</text>
<text transform="translate(144.78,770.0) scale(0.93,1)" font-size="9.4" text-anchor="middle" fill="#1a1a1a">21</text>
<text transform="translate(160.39,770.0) scale(0.93,1)" font-size="9.4" text-anchor="middle" fill="#1a1a1a">18</text>
<text transform="translate(176.00,770.0) scale(0.93,1)" font-size="9.4" text-anchor="middle" fill="#1a1a1a">16</text>
<text transform="translate(191.61,770.0) scale(0.93,1)" font-size="9.4" text-anchor="middle" fill="#1a1a1a">13</text>
<text transform="translate(207.22,770.0) scale(0.93,1)" font-size="9.4" text-anchor="middle" fill="#1a1a1a">13</text>
<text transform="translate(222.83,770.0) scale(0.93,1)" font-size="9.4" text-anchor="middle" fill="#1a1a1a">10</text>
<text transform="translate(238.44,770.0) scale(0.93,1)" font-size="9.4" text-anchor="middle" fill="#1a1a1a">8</text>
<text transform="translate(254.05,770.0) scale(0.93,1)" font-size="9.4" text-anchor="middle" fill="#1a1a1a">6</text>
<text transform="translate(269.66,770.0) scale(0.93,1)" font-size="9.4" text-anchor="middle" fill="#1a1a1a">3</text>
<text transform="translate(285.27,770.0) scale(0.93,1)" font-size="9.4" text-anchor="middle" fill="#1a1a1a">1</text>
<text transform="translate(300.88,770.0) scale(0.93,1)" font-size="9.4" text-anchor="middle" fill="#1a1a1a">1</text>
<text transform="translate(316.49,770.0) scale(0.93,1)" font-size="9.4" text-anchor="middle" fill="#1a1a1a">1</text>
<text transform="translate(332.10,770.0) scale(0.93,1)" font-size="9.4" text-anchor="middle" fill="#1a1a1a">0</text>
<text transform="translate(347.71,770.0) scale(0.93,1)" font-size="9.4" text-anchor="middle" fill="#1a1a1a">0</text>
<text transform="translate(363.32,770.0) scale(0.93,1)" font-size="9.4" text-anchor="middle" fill="#1a1a1a">0</text>
<text transform="translate(378.93,770.0) scale(0.93,1)" font-size="9.4" text-anchor="middle" fill="#1a1a1a">0</text>
<text transform="translate(394.54,770.0) scale(0.93,1)" font-size="9.4" text-anchor="middle" fill="#1a1a1a">0</text>
<text transform="translate(410.15,770.0) scale(0.93,1)" font-size="9.4" text-anchor="middle" fill="#1a1a1a">0</text>
<text transform="translate(425.76,770.0) scale(0.93,1)" font-size="9.4" text-anchor="middle" fill="#1a1a1a">0</text>
<text transform="translate(441.37,770.0) scale(0.93,1)" font-size="9.4" text-anchor="middle" fill="#1a1a1a">0</text>
<text transform="translate(456.98,770.0) scale(0.93,1)" font-size="9.4" text-anchor="middle" fill="#1a1a1a">0</text>
<text transform="translate(472.59,770.0) scale(0.93,1)" font-size="9.4" text-anchor="middle" fill="#1a1a1a">0</text>
<text transform="translate(488.20,770.0) scale(0.93,1)" font-size="9.4" text-anchor="middle" fill="#1a1a1a">0</text>
<text x="12.3" y="800.0" font-size="20" font-weight="bold" fill="#111">C</text>
<path d="M78.1,799.6 V1034.7 H508" fill="none" stroke="#000" stroke-width="1.6"/>
<path d="M73,1024.0 H78 M73,970.4 H78 M73,916.8 H78 M73,863.2 H78 M73,809.6 H78 M98.0,1034.7 V1039.9 M113.6,1034.7 V1039.9 M129.2,1034.7 V1039.9 M144.8,1034.7 V1039.9 M160.4,1034.7 V1039.9 M176.0,1034.7 V1039.9 M191.6,1034.7 V1039.9 M207.2,1034.7 V1039.9 M222.8,1034.7 V1039.9 M238.4,1034.7 V1039.9 M254.1,1034.7 V1039.9 M269.7,1034.7 V1039.9 M285.3,1034.7 V1039.9 M300.9,1034.7 V1039.9 M316.5,1034.7 V1039.9 M332.1,1034.7 V1039.9 M347.7,1034.7 V1039.9 M363.3,1034.7 V1039.9 M378.9,1034.7 V1039.9 M394.5,1034.7 V1039.9 M410.1,1034.7 V1039.9 M425.8,1034.7 V1039.9 M441.4,1034.7 V1039.9 M457.0,1034.7 V1039.9 M472.6,1034.7 V1039.9 M488.2,1034.7 V1039.9" stroke="#000" stroke-width="1.4" fill="none"/>
<text transform="translate(67.6,1027.7) scale(1.045,1)" font-size="10.6" text-anchor="end" fill="#1a1a1a">0.00</text>
<text transform="translate(67.6,974.1) scale(1.045,1)" font-size="10.6" text-anchor="end" fill="#1a1a1a">0.25</text>
<text transform="translate(67.6,920.5) scale(1.045,1)" font-size="10.6" text-anchor="end" fill="#1a1a1a">0.50</text>
<text transform="translate(67.6,866.9) scale(1.045,1)" font-size="10.6" text-anchor="end" fill="#1a1a1a">0.75</text>
<text transform="translate(67.6,813.3) scale(1.045,1)" font-size="10.6" text-anchor="end" fill="#1a1a1a">1.00</text>
<text x="98.0" y="1054.6" font-size="10.60" text-anchor="middle" fill="#1a1a1a" >0</text>
<text x="113.6" y="1054.6" font-size="10.60" text-anchor="middle" fill="#1a1a1a" >1</text>
<text x="129.2" y="1054.6" font-size="10.60" text-anchor="middle" fill="#1a1a1a" >2</text>
<text x="144.8" y="1054.6" font-size="10.60" text-anchor="middle" fill="#1a1a1a" >3</text>
<text x="160.4" y="1054.6" font-size="10.60" text-anchor="middle" fill="#1a1a1a" >4</text>
<text x="176.0" y="1054.6" font-size="10.60" text-anchor="middle" fill="#1a1a1a" >5</text>
<text x="191.6" y="1054.6" font-size="10.60" text-anchor="middle" fill="#1a1a1a" >6</text>
<text x="207.2" y="1054.6" font-size="10.60" text-anchor="middle" fill="#1a1a1a" >7</text>
<text x="222.8" y="1054.6" font-size="10.60" text-anchor="middle" fill="#1a1a1a" >8</text>
<text x="238.4" y="1054.6" font-size="10.60" text-anchor="middle" fill="#1a1a1a" >9</text>
<text x="254.1" y="1054.6" font-size="10.60" text-anchor="middle" fill="#1a1a1a" >10</text>
<text x="269.7" y="1054.6" font-size="10.60" text-anchor="middle" fill="#1a1a1a" >11</text>
<text x="285.3" y="1054.6" font-size="10.60" text-anchor="middle" fill="#1a1a1a" >12</text>
<text x="300.9" y="1054.6" font-size="10.60" text-anchor="middle" fill="#1a1a1a" >13</text>
<text x="316.5" y="1054.6" font-size="10.60" text-anchor="middle" fill="#1a1a1a" >14</text>
<text x="332.1" y="1054.6" font-size="10.60" text-anchor="middle" fill="#1a1a1a" >15</text>
<text x="347.7" y="1054.6" font-size="10.60" text-anchor="middle" fill="#1a1a1a" >16</text>
<text x="363.3" y="1054.6" font-size="10.60" text-anchor="middle" fill="#1a1a1a" >17</text>
<text x="378.9" y="1054.6" font-size="10.60" text-anchor="middle" fill="#1a1a1a" >18</text>
<text x="394.5" y="1054.6" font-size="10.60" text-anchor="middle" fill="#1a1a1a" >19</text>
<text x="410.1" y="1054.6" font-size="10.60" text-anchor="middle" fill="#1a1a1a" >20</text>
<text x="425.8" y="1054.6" font-size="10.60" text-anchor="middle" fill="#1a1a1a" >21</text>
<text x="441.4" y="1054.6" font-size="10.60" text-anchor="middle" fill="#1a1a1a" >22</text>
<text x="457.0" y="1054.6" font-size="10.60" text-anchor="middle" fill="#1a1a1a" >23</text>
<text x="472.6" y="1054.6" font-size="10.60" text-anchor="middle" fill="#1a1a1a" >24</text>
<text x="488.2" y="1054.6" font-size="10.60" text-anchor="middle" fill="#1a1a1a" >25</text>
<text transform="translate(37.2,916.8) rotate(-90)" x="0" y="0" font-size="14.6" text-anchor="middle" fill="#111" style="stroke:#111;stroke-width:0.6px" textLength="127.6" lengthAdjust="spacingAndGlyphs">Probability of overall survival</text>
<text x="281.2" y="1075.3" font-size="14.4" fill="#111" style="stroke:#111;stroke-width:0.7px" textLength="23.3" lengthAdjust="spacingAndGlyphs">Years</text>
<text x="321.6" y="1029.9" font-size="8.90" text-anchor="start" fill="#1a1a1a" >P &lt; 0.001 by log-rank test</text>
<text x="26.3" y="1092.2" font-size="8.70" text-anchor="start" fill="#1a1a1a" >No. at risk:</text>
<path d="M97.5,916.6 H154.4 M145.9,916.6 V1024 M154.4,916.6 V1024" fill="none" stroke="#000" stroke-width="1.6" stroke-dasharray="5.5 3.7"/>
<path d="M98.4,809.6 L100.0,809.6 L100.0,810.0 L101.5,810.0 L101.5,810.5 L102.7,810.5 L102.7,811.5 L104.1,811.5 L104.1,812.0 L105.5,812.0 L105.5,812.5 L107.5,812.5 L107.5,815.0 L108.8,815.0 L108.8,816.8 L110.2,816.8 L110.2,818.5 L112.0,818.5 L112.0,822.0 L113.9,822.0 L113.9,825.4 L114.7,825.4 L114.7,827.7 L115.5,827.7 L115.5,830.0 L115.8,830.0 L115.8,832.7 L116.2,832.7 L116.2,835.4 L118.0,835.4 L118.0,838.0 L119.4,838.0 L119.4,839.0 L120.8,839.0 L120.8,840.0 L121.5,840.0 L121.5,842.8 L122.3,842.8 L122.3,845.7 L123.0,845.7 L123.0,848.5 L124.8,848.5 L124.8,849.5 L126.5,849.5 L126.5,850.4 L127.8,850.4 L127.8,852.2 L129.0,852.2 L129.0,854.0 L130.8,854.0 L130.8,856.0 L133.0,856.0 L133.0,860.0 L135.0,860.0 L135.0,862.0 L137.0,862.0 L137.0,864.0 L139.2,864.0 L139.2,866.2 L140.8,866.2 L140.8,866.5 L142.5,866.5 L142.5,866.8 L144.2,866.8 L144.2,867.0 L145.8,867.0 L145.8,867.3 L147.3,867.3 L147.3,867.9 L148.9,867.9 L148.9,868.5 L150.4,868.5 L150.4,869.0 L152.0,869.0 L152.0,869.6 L153.5,869.6 L153.5,870.2 L155.3,870.2 L155.3,871.6 L157.0,871.6 L157.0,872.9 L158.8,872.9 L158.8,874.3 L194.6,874.3 L196.0,874.3 L196.0,875.5 L198.0,875.5 L198.0,877.0 L200.0,877.0 L200.0,879.0 L201.3,879.0 L201.3,880.1 L202.7,880.1 L202.7,881.3 L214.8,881.3 L214.8,883.2 L229.2,883.2 L229.2,886.0 L240.8,886.0 L240.8,889.3 L267.6,889.3 L267.6,894.4 L461.3,894.4" fill="none" stroke="#9b0014" stroke-width="1.50" stroke-linejoin="miter" stroke-linecap="square"/>
<path d="M114.0,822.4v5.4M111.6,825.4h4.8 M117.0,833.3v5.4M114.6,836.3h4.8 M119.0,835.4v5.4M116.6,838.4h4.8 M121.0,837.5v5.4M118.6,840.5h4.8 M127.0,847.8v5.4M124.6,850.8h4.8 M137.0,860.7v5.4M134.6,863.7h4.8 M139.0,862.7v5.4M136.6,865.7h4.8 M141.0,863.2v5.4M138.6,866.2h4.8 M146.0,864.1v5.4M143.6,867.1h4.8 M148.0,864.8v5.4M145.6,867.8h4.8 M150.0,865.6v5.4M147.6,868.6h4.8 M152.0,866.3v5.4M149.6,869.3h4.8 M156.0,868.8v5.4M153.6,871.8h4.8 M158.0,870.4v5.4M155.6,873.4h4.8 M163.0,871.0v5.4M160.6,874.0h4.8 M167.0,871.0v5.4M164.6,874.0h4.8 M171.0,871.0v5.4M168.6,874.0h4.8 M179.0,871.0v5.4M176.6,874.0h4.8 M181.0,871.0v5.4M178.6,874.0h4.8 M184.0,871.0v5.4M181.6,874.0h4.8 M188.0,871.0v5.4M185.6,874.0h4.8 M193.0,871.0v5.4M190.6,874.0h4.8 M200.0,875.7v5.4M197.6,878.7h4.8 M210.0,878.0v5.4M207.6,881.0h4.8 M213.0,878.0v5.4M210.6,881.0h4.8 M217.0,879.9v5.4M214.6,882.9h4.8 M221.0,879.9v5.4M218.6,882.9h4.8 M226.0,879.9v5.4M223.6,882.9h4.8 M232.0,882.7v5.4M229.6,885.7h4.8 M234.0,882.7v5.4M231.6,885.7h4.8 M237.0,882.7v5.4M234.6,885.7h4.8 M239.0,882.7v5.4M236.6,885.7h4.8 M243.0,886.0v5.4M240.6,889.0h4.8 M247.0,886.0v5.4M244.6,889.0h4.8 M252.0,886.0v5.4M249.6,889.0h4.8 M256.0,886.0v5.4M253.6,889.0h4.8 M262.0,886.0v5.4M259.6,889.0h4.8 M264.0,886.0v5.4M261.6,889.0h4.8 M266.0,886.0v5.4M263.6,889.0h4.8 M276.0,891.1v5.4M273.6,894.1h4.8 M279.0,891.1v5.4M276.6,894.1h4.8 M282.0,891.1v5.4M279.6,894.1h4.8 M293.0,891.1v5.4M290.6,894.1h4.8 M295.0,891.1v5.4M292.6,894.1h4.8 M296.5,891.1v5.4M294.1,894.1h4.8 M298.5,891.1v5.4M296.1,894.1h4.8 M301.5,891.1v5.4M299.1,894.1h4.8 M304.0,891.1v5.4M301.6,894.1h4.8 M306.0,891.1v5.4M303.6,894.1h4.8 M339.0,891.1v5.4M336.6,894.1h4.8 M343.0,891.1v5.4M340.6,894.1h4.8 M345.0,891.1v5.4M342.6,894.1h4.8 M350.0,891.1v5.4M347.6,894.1h4.8 M359.0,891.1v5.4M356.6,894.1h4.8 M362.0,891.1v5.4M359.6,894.1h4.8 M364.0,891.1v5.4M361.6,894.1h4.8 M366.0,891.1v5.4M363.6,894.1h4.8 M368.5,891.1v5.4M366.1,894.1h4.8 M371.5,891.1v5.4M369.1,894.1h4.8 M402.0,891.1v5.4M399.6,894.1h4.8 M405.0,891.1v5.4M402.6,894.1h4.8 M409.0,891.1v5.4M406.6,894.1h4.8 M461.3,891.1v5.4M458.9,894.1h4.8" fill="none" stroke="#9b0014" stroke-width="1.0"/>
<path d="M98.4,809.6 L100.3,809.6 L100.3,809.7 L102.1,809.7 L102.1,809.9 L104.0,809.9 L104.0,810.0 L105.0,810.0 L105.0,810.5 L106.0,810.5 L106.0,812.8 L107.0,812.8 L107.0,815.0 L108.0,815.0 L108.0,818.5 L109.0,818.5 L109.0,822.0 L109.5,822.0 L109.5,825.0 L110.0,825.0 L110.0,828.0 L111.5,828.0 L111.5,830.8 L113.2,830.8 L113.2,831.5 L115.0,831.5 L115.0,832.3 L115.3,832.3 L115.3,834.9 L115.7,834.9 L115.7,837.4 L116.0,837.4 L116.0,840.0 L117.0,840.0 L117.0,842.7 L118.1,842.7 L118.1,845.4 L118.3,845.4 L118.3,847.9 L118.6,847.9 L118.6,850.5 L118.8,850.5 L118.8,853.0 L120.5,853.0 L120.5,853.4 L122.3,853.4 L122.3,853.8 L123.7,853.8 L123.7,856.9 L125.0,856.9 L125.0,860.0 L126.9,860.0 L126.9,862.0 L128.8,862.0 L128.8,864.0 L130.0,864.0 L130.0,868.0 L131.5,868.0 L131.5,870.9 L133.0,870.9 L133.0,873.8 L134.0,873.8 L134.0,877.0 L135.8,877.0 L135.8,880.0 L137.7,880.0 L137.7,883.0 L149.6,883.0 L149.6,886.5 L166.9,886.5 L166.9,890.8 L183.5,890.8 L183.5,896.7 L187.0,896.7 L187.0,905.4 L194.6,905.4 L194.6,912.4 L441.0,912.4" fill="none" stroke="#5a9fda" stroke-width="1.50" stroke-linejoin="miter" stroke-linecap="square"/>
<path d="M115.0,829.0v5.4M112.6,832.0h4.8 M117.0,839.3v5.4M114.6,842.3h4.8 M133.0,870.5v5.4M130.6,873.5h4.8 M141.0,879.7v5.4M138.6,882.7h4.8 M146.0,879.7v5.4M143.6,882.7h4.8 M148.0,879.7v5.4M145.6,882.7h4.8 M151.0,883.2v5.4M148.6,886.2h4.8 M153.0,883.2v5.4M150.6,886.2h4.8 M155.0,883.2v5.4M152.6,886.2h4.8 M157.0,883.2v5.4M154.6,886.2h4.8 M160.0,883.2v5.4M157.6,886.2h4.8 M163.0,883.2v5.4M160.6,886.2h4.8 M166.0,883.2v5.4M163.6,886.2h4.8 M168.0,887.5v5.4M165.6,890.5h4.8 M194.0,902.1v5.4M191.6,905.1h4.8 M205.0,909.1v5.4M202.6,912.1h4.8 M209.0,909.1v5.4M206.6,912.1h4.8 M226.0,909.1v5.4M223.6,912.1h4.8 M237.0,909.1v5.4M234.6,912.1h4.8 M246.0,909.1v5.4M243.6,912.1h4.8 M253.5,909.1v5.4M251.1,912.1h4.8 M262.0,909.1v5.4M259.6,912.1h4.8 M276.0,909.1v5.4M273.6,912.1h4.8 M281.0,909.1v5.4M278.6,912.1h4.8 M285.0,909.1v5.4M282.6,912.1h4.8 M289.0,909.1v5.4M286.6,912.1h4.8 M305.0,909.1v5.4M302.6,912.1h4.8 M316.0,909.1v5.4M313.6,912.1h4.8 M318.0,909.1v5.4M315.6,912.1h4.8 M337.0,909.1v5.4M334.6,912.1h4.8 M359.0,909.1v5.4M356.6,912.1h4.8 M372.0,909.1v5.4M369.6,912.1h4.8 M441.0,909.1v5.4M438.6,912.1h4.8" fill="none" stroke="#5a9fda" stroke-width="1.0"/>
<path d="M98.4,809.6 L112.5,809.6 L112.5,833.5 L113.5,833.5 L113.5,857.2 L116.9,857.2 L116.9,881.1 L120.8,881.1 L120.8,905.0 L154.4,905.0 L154.4,928.5 L247.2,928.5" fill="none" stroke="#d9850c" stroke-width="1.50" stroke-linejoin="miter" stroke-linecap="square"/>
<path d="M157.0,925.2v5.4M154.6,928.2h4.8 M159.5,925.2v5.4M157.1,928.2h4.8 M162.0,925.2v5.4M159.6,928.2h4.8 M235.0,925.2v5.4M232.6,928.2h4.8 M238.0,925.2v5.4M235.6,928.2h4.8 M241.0,925.2v5.4M238.6,928.2h4.8 M247.2,925.2v5.4M244.8,928.2h4.8" fill="none" stroke="#d9850c" stroke-width="1.0"/>
<path d="M98.4,809.6 L106.1,809.6 L106.6,809.6 L106.6,812.0 L107.2,812.0 L107.2,815.0 L107.6,815.0 L107.6,817.5 L108.0,817.5 L108.0,820.0 L108.5,820.0 L108.5,822.5 L109.0,822.5 L109.0,825.0 L109.5,825.0 L109.5,827.5 L110.0,827.5 L110.0,830.0 L110.4,830.0 L110.4,833.1 L110.8,833.1 L110.8,836.2 L111.2,836.2 L111.2,839.2 L111.6,839.2 L111.6,842.3 L112.0,842.3 L112.0,845.4 L112.6,845.4 L112.6,847.9 L113.2,847.9 L113.2,850.5 L113.8,850.5 L113.8,853.0 L115.5,853.0 L115.5,857.0 L116.0,857.0 L116.0,859.5 L116.4,859.5 L116.4,862.1 L116.9,862.1 L116.9,864.6 L119.2,864.6 L119.2,866.0 L119.6,866.0 L119.6,869.0 L120.1,869.0 L120.1,872.0 L120.5,872.0 L120.5,875.0 L121.0,875.0 L121.0,878.6 L121.5,878.6 L121.5,882.3 L122.2,882.3 L122.2,884.6 L123.0,884.6 L123.0,887.0 L124.6,887.0 L124.6,887.8 L126.2,887.8 L126.2,888.5 L126.6,888.5 L126.6,891.2 L127.0,891.2 L127.0,894.0 L128.5,894.0 L128.5,897.3 L129.9,897.3 L129.9,900.6 L131.3,900.6 L131.3,904.0 L133.2,904.0 L133.2,907.4 L135.2,907.4 L135.2,910.8 L136.6,910.8 L136.6,912.7 L138.0,912.7 L138.0,914.6 L144.8,914.6 L145.8,914.6 L145.8,917.5 L146.7,917.5 L146.7,920.4 L148.1,920.4 L148.1,923.1 L149.6,923.1 L149.6,925.8 L151.1,925.8 L151.1,926.6 L152.5,926.6 L152.5,927.4 L153.9,927.4 L153.9,928.2 L155.4,928.2 L155.4,929.0 L157.0,929.0 L157.0,929.7 L158.6,929.7 L158.6,930.3 L160.2,930.3 L160.2,931.0 L161.1,931.0 L161.1,933.9 L162.1,933.9 L162.1,936.7 L211.9,936.7 L211.9,940.7 L225.1,940.7 L225.1,947.2 L282.9,947.2 L282.9,966.8 L324.4,966.8" fill="none" stroke="#519a2a" stroke-width="1.50" stroke-linejoin="miter" stroke-linecap="square"/>
<path d="M102.3,806.3v5.4M99.9,809.3h4.8 M114.0,850.2v5.4M111.6,853.2h4.8 M117.0,861.4v5.4M114.6,864.4h4.8 M140.0,911.3v5.4M137.6,914.3h4.8 M146.0,915.0v5.4M143.6,918.0h4.8 M152.0,923.8v5.4M149.6,926.8h4.8 M156.0,925.9v5.4M153.6,929.0h4.8 M158.0,926.8v5.4M155.6,929.8h4.8 M161.0,930.1v5.4M158.6,933.1h4.8 M166.0,933.4v5.4M163.6,936.4h4.8 M172.0,933.4v5.4M169.6,936.4h4.8 M175.0,933.4v5.4M172.6,936.4h4.8 M178.0,933.4v5.4M175.6,936.4h4.8 M183.0,933.4v5.4M180.6,936.4h4.8 M188.0,933.4v5.4M185.6,936.4h4.8 M213.0,937.4v5.4M210.6,940.4h4.8 M218.0,937.4v5.4M215.6,940.4h4.8 M220.0,937.4v5.4M217.6,940.4h4.8 M226.0,943.9v5.4M223.6,946.9h4.8 M230.0,943.9v5.4M227.6,946.9h4.8 M236.0,943.9v5.4M233.6,946.9h4.8 M240.0,943.9v5.4M237.6,946.9h4.8 M248.0,943.9v5.4M245.6,946.9h4.8 M263.0,943.9v5.4M260.6,946.9h4.8 M268.0,943.9v5.4M265.6,946.9h4.8 M271.0,943.9v5.4M268.6,946.9h4.8 M283.0,963.5v5.4M280.6,966.5h4.8 M324.4,963.5v5.4M322.0,966.5h4.8" fill="none" stroke="#519a2a" stroke-width="1.0"/>
<path d="M186.2,811.6 H203.5" stroke="#9b0014" stroke-width="1.7"/>
<text x="208.8" y="810.7" font-size="9.10" text-anchor="start" fill="#1a1a1a" >MRD<tspan font-size="6.5" letter-spacing="0.55" dy="-3.5">1st</tspan><tspan dy="2.4" font-size="6.6">-</tspan><tspan dy="1.1">MRD</tspan><tspan font-size="6.5" letter-spacing="0.55" dy="-3.5">2nd</tspan><tspan dy="3.5">- (n = 147)</tspan></text>
<text x="208.8" y="821.8" font-size="8.80" text-anchor="start" fill="#1a1a1a" >Median, not reached</text>
<path d="M328.8,811.6 H345.6" stroke="#d9850c" stroke-width="1.7"/>
<text x="350.8" y="810.7" font-size="9.10" text-anchor="start" fill="#1a1a1a" >MRD<tspan font-size="6.5" letter-spacing="0.55" dy="-3.5">1st</tspan><tspan dy="2.4" font-size="6.6">-</tspan><tspan dy="1.1">MRD</tspan><tspan font-size="6.5" letter-spacing="0.55" dy="-3.5">2nd</tspan><tspan dy="3.5" letter-spacing="0.15">+ (n = 9)</tspan></text>
<text x="350.8" y="821.8" font-size="8.80" text-anchor="start" fill="#1a1a1a" >Median, 3.6 years</text>
<path d="M186.2,841.7 H203.5" stroke="#5a9fda" stroke-width="1.7"/>
<text x="208.8" y="840.8" font-size="9.10" text-anchor="start" fill="#1a1a1a" >MRD<tspan font-size="6.5" letter-spacing="0.55" dy="-3.5">1st</tspan><tspan dy="3.5">+</tspan>MRD<tspan font-size="6.5" letter-spacing="0.55" dy="-3.5">2nd</tspan><tspan dy="3.5">- (n = 60)</tspan></text>
<text x="208.8" y="851.9" font-size="8.80" text-anchor="start" fill="#1a1a1a" >Median, not reached</text>
<path d="M328.8,840.1 H345.6" stroke="#519a2a" stroke-width="1.7"/>
<text x="350.8" y="837.7" font-size="9.10" text-anchor="start" fill="#1a1a1a" >MRD<tspan font-size="6.5" letter-spacing="0.55" dy="-3.5">1st</tspan><tspan dy="3.5">+</tspan>MRD<tspan font-size="6.5" letter-spacing="0.55" dy="-3.5">2nd</tspan><tspan dy="3.5" letter-spacing="0.15">+ (n = 75)</tspan></text>
<text x="350.8" y="848.8" font-size="8.80" text-anchor="start" fill="#1a1a1a" >Median, 3.1 years</text>
<path d="M444.6,901.2 H448.9 V910.6 H444.6 M448.9,905.8 H455.7" fill="none" stroke="#111" stroke-width="1.55"/>
<text x="461.4" y="909.0" font-size="9.30" text-anchor="start" fill="#1a1a1a" letter-spacing="0.1">P = 0.188</text>
<path d="M444.6,911.4 H448.9 V957.0 H444.6 M448.9,935.0 H455.7" fill="none" stroke="#111" stroke-width="1.55"/>
<text x="461.4" y="938.2" font-size="9.30" text-anchor="start" fill="#1a1a1a" letter-spacing="0.1">P = 0.031</text>
<path d="M300.1,929.5 H301.9 V957.3 H300.1 M301.9,943.0 H307.3" fill="none" stroke="#111" stroke-width="1.55"/>
<text x="313.2" y="946.2" font-size="9.30" text-anchor="start" fill="#1a1a1a" letter-spacing="0.1">P = 0.808</text>
<path d="M69.9,1104.7 h17.3" stroke="#9b0014" stroke-width="1.8"/>
<text transform="translate(97.95,1107.6) scale(0.93,1)" font-size="9.4" text-anchor="middle" fill="#1a1a1a">147</text>
<text transform="translate(113.56,1107.6) scale(0.93,1)" font-size="9.4" text-anchor="middle" fill="#1a1a1a">135</text>
<text transform="translate(129.17,1107.6) scale(0.93,1)" font-size="9.4" text-anchor="middle" fill="#1a1a1a">114</text>
<text transform="translate(144.78,1107.6) scale(0.93,1)" font-size="9.4" text-anchor="middle" fill="#1a1a1a">103</text>
<text transform="translate(160.39,1107.6) scale(0.93,1)" font-size="9.4" text-anchor="middle" fill="#1a1a1a">92</text>
<text transform="translate(176.00,1107.6) scale(0.93,1)" font-size="9.4" text-anchor="middle" fill="#1a1a1a">82</text>
<text transform="translate(191.61,1107.6) scale(0.93,1)" font-size="9.4" text-anchor="middle" fill="#1a1a1a">77</text>
<text transform="translate(207.22,1107.6) scale(0.93,1)" font-size="9.4" text-anchor="middle" fill="#1a1a1a">66</text>
<text transform="translate(222.83,1107.6) scale(0.93,1)" font-size="9.4" text-anchor="middle" fill="#1a1a1a">55</text>
<text transform="translate(238.44,1107.6) scale(0.93,1)" font-size="9.4" text-anchor="middle" fill="#1a1a1a">45</text>
<text transform="translate(254.05,1107.6) scale(0.93,1)" font-size="9.4" text-anchor="middle" fill="#1a1a1a">38</text>
<text transform="translate(269.66,1107.6) scale(0.93,1)" font-size="9.4" text-anchor="middle" fill="#1a1a1a">29</text>
<text transform="translate(285.27,1107.6) scale(0.93,1)" font-size="9.4" text-anchor="middle" fill="#1a1a1a">24</text>
<text transform="translate(300.88,1107.6) scale(0.93,1)" font-size="9.4" text-anchor="middle" fill="#1a1a1a">17</text>
<text transform="translate(316.49,1107.6) scale(0.93,1)" font-size="9.4" text-anchor="middle" fill="#1a1a1a">14</text>
<text transform="translate(332.10,1107.6) scale(0.93,1)" font-size="9.4" text-anchor="middle" fill="#1a1a1a">14</text>
<text transform="translate(347.71,1107.6) scale(0.93,1)" font-size="9.4" text-anchor="middle" fill="#1a1a1a">12</text>
<text transform="translate(363.32,1107.6) scale(0.93,1)" font-size="9.4" text-anchor="middle" fill="#1a1a1a">9</text>
<text transform="translate(378.93,1107.6) scale(0.93,1)" font-size="9.4" text-anchor="middle" fill="#1a1a1a">3</text>
<text transform="translate(394.54,1107.6) scale(0.93,1)" font-size="9.4" text-anchor="middle" fill="#1a1a1a">3</text>
<text transform="translate(410.15,1107.6) scale(0.93,1)" font-size="9.4" text-anchor="middle" fill="#1a1a1a">1</text>
<text transform="translate(425.76,1107.6) scale(0.93,1)" font-size="9.4" text-anchor="middle" fill="#1a1a1a">1</text>
<text transform="translate(441.37,1107.6) scale(0.93,1)" font-size="9.4" text-anchor="middle" fill="#1a1a1a">1</text>
<text transform="translate(456.98,1107.6) scale(0.93,1)" font-size="9.4" text-anchor="middle" fill="#1a1a1a">1</text>
<text transform="translate(472.59,1107.6) scale(0.93,1)" font-size="9.4" text-anchor="middle" fill="#1a1a1a">0</text>
<text transform="translate(488.20,1107.6) scale(0.93,1)" font-size="9.4" text-anchor="middle" fill="#1a1a1a">0</text>
<path d="M69.9,1120.1 h17.3" stroke="#5a9fda" stroke-width="1.8"/>
<text transform="translate(97.95,1123.0) scale(0.93,1)" font-size="9.4" text-anchor="middle" fill="#1a1a1a">60</text>
<text transform="translate(113.56,1123.0) scale(0.93,1)" font-size="9.4" text-anchor="middle" fill="#1a1a1a">53</text>
<text transform="translate(129.17,1123.0) scale(0.93,1)" font-size="9.4" text-anchor="middle" fill="#1a1a1a">44</text>
<text transform="translate(144.78,1123.0) scale(0.93,1)" font-size="9.4" text-anchor="middle" fill="#1a1a1a">37</text>
<text transform="translate(160.39,1123.0) scale(0.93,1)" font-size="9.4" text-anchor="middle" fill="#1a1a1a">30</text>
<text transform="translate(176.00,1123.0) scale(0.93,1)" font-size="9.4" text-anchor="middle" fill="#1a1a1a">26</text>
<text transform="translate(191.61,1123.0) scale(0.93,1)" font-size="9.4" text-anchor="middle" fill="#1a1a1a">23</text>
<text transform="translate(207.22,1123.0) scale(0.93,1)" font-size="9.4" text-anchor="middle" fill="#1a1a1a">21</text>
<text transform="translate(222.83,1123.0) scale(0.93,1)" font-size="9.4" text-anchor="middle" fill="#1a1a1a">18</text>
<text transform="translate(238.44,1123.0) scale(0.93,1)" font-size="9.4" text-anchor="middle" fill="#1a1a1a">16</text>
<text transform="translate(254.05,1123.0) scale(0.93,1)" font-size="9.4" text-anchor="middle" fill="#1a1a1a">13</text>
<text transform="translate(269.66,1123.0) scale(0.93,1)" font-size="9.4" text-anchor="middle" fill="#1a1a1a">12</text>
<text transform="translate(285.27,1123.0) scale(0.93,1)" font-size="9.4" text-anchor="middle" fill="#1a1a1a">10</text>
<text transform="translate(300.88,1123.0) scale(0.93,1)" font-size="9.4" text-anchor="middle" fill="#1a1a1a">9</text>
<text transform="translate(316.49,1123.0) scale(0.93,1)" font-size="9.4" text-anchor="middle" fill="#1a1a1a">7</text>
<text transform="translate(332.10,1123.0) scale(0.93,1)" font-size="9.4" text-anchor="middle" fill="#1a1a1a">5</text>
<text transform="translate(347.71,1123.0) scale(0.93,1)" font-size="9.4" text-anchor="middle" fill="#1a1a1a">3</text>
<text transform="translate(363.32,1123.0) scale(0.93,1)" font-size="9.4" text-anchor="middle" fill="#1a1a1a">2</text>
<text transform="translate(378.93,1123.0) scale(0.93,1)" font-size="9.4" text-anchor="middle" fill="#1a1a1a">1</text>
<text transform="translate(394.54,1123.0) scale(0.93,1)" font-size="9.4" text-anchor="middle" fill="#1a1a1a">1</text>
<text transform="translate(410.15,1123.0) scale(0.93,1)" font-size="9.4" text-anchor="middle" fill="#1a1a1a">1</text>
<text transform="translate(425.76,1123.0) scale(0.93,1)" font-size="9.4" text-anchor="middle" fill="#1a1a1a">1</text>
<text transform="translate(441.37,1123.0) scale(0.93,1)" font-size="9.4" text-anchor="middle" fill="#1a1a1a">0</text>
<text transform="translate(456.98,1123.0) scale(0.93,1)" font-size="9.4" text-anchor="middle" fill="#1a1a1a">0</text>
<text transform="translate(472.59,1123.0) scale(0.93,1)" font-size="9.4" text-anchor="middle" fill="#1a1a1a">0</text>
<text transform="translate(488.20,1123.0) scale(0.93,1)" font-size="9.4" text-anchor="middle" fill="#1a1a1a">0</text>
<path d="M69.9,1135.5 h17.3" stroke="#d9850c" stroke-width="1.8"/>
<text transform="translate(97.95,1138.4) scale(0.93,1)" font-size="9.4" text-anchor="middle" fill="#1a1a1a">9</text>
<text transform="translate(113.56,1138.4) scale(0.93,1)" font-size="9.4" text-anchor="middle" fill="#1a1a1a">8</text>
<text transform="translate(129.17,1138.4) scale(0.93,1)" font-size="9.4" text-anchor="middle" fill="#1a1a1a">5</text>
<text transform="translate(144.78,1138.4) scale(0.93,1)" font-size="9.4" text-anchor="middle" fill="#1a1a1a">5</text>
<text transform="translate(160.39,1138.4) scale(0.93,1)" font-size="9.4" text-anchor="middle" fill="#1a1a1a">3</text>
<text transform="translate(176.00,1138.4) scale(0.93,1)" font-size="9.4" text-anchor="middle" fill="#1a1a1a">2</text>
<text transform="translate(191.61,1138.4) scale(0.93,1)" font-size="9.4" text-anchor="middle" fill="#1a1a1a">2</text>
<text transform="translate(207.22,1138.4) scale(0.93,1)" font-size="9.4" text-anchor="middle" fill="#1a1a1a">2</text>
<text transform="translate(222.83,1138.4) scale(0.93,1)" font-size="9.4" text-anchor="middle" fill="#1a1a1a">2</text>
<text transform="translate(238.44,1138.4) scale(0.93,1)" font-size="9.4" text-anchor="middle" fill="#1a1a1a">2</text>
<text transform="translate(254.05,1138.4) scale(0.93,1)" font-size="9.4" text-anchor="middle" fill="#1a1a1a">0</text>
<text transform="translate(269.66,1138.4) scale(0.93,1)" font-size="9.4" text-anchor="middle" fill="#1a1a1a">0</text>
<text transform="translate(285.27,1138.4) scale(0.93,1)" font-size="9.4" text-anchor="middle" fill="#1a1a1a">0</text>
<text transform="translate(300.88,1138.4) scale(0.93,1)" font-size="9.4" text-anchor="middle" fill="#1a1a1a">0</text>
<text transform="translate(316.49,1138.4) scale(0.93,1)" font-size="9.4" text-anchor="middle" fill="#1a1a1a">0</text>
<text transform="translate(332.10,1138.4) scale(0.93,1)" font-size="9.4" text-anchor="middle" fill="#1a1a1a">0</text>
<text transform="translate(347.71,1138.4) scale(0.93,1)" font-size="9.4" text-anchor="middle" fill="#1a1a1a">0</text>
<text transform="translate(363.32,1138.4) scale(0.93,1)" font-size="9.4" text-anchor="middle" fill="#1a1a1a">0</text>
<text transform="translate(378.93,1138.4) scale(0.93,1)" font-size="9.4" text-anchor="middle" fill="#1a1a1a">0</text>
<text transform="translate(394.54,1138.4) scale(0.93,1)" font-size="9.4" text-anchor="middle" fill="#1a1a1a">0</text>
<text transform="translate(410.15,1138.4) scale(0.93,1)" font-size="9.4" text-anchor="middle" fill="#1a1a1a">0</text>
<text transform="translate(425.76,1138.4) scale(0.93,1)" font-size="9.4" text-anchor="middle" fill="#1a1a1a">0</text>
<text transform="translate(441.37,1138.4) scale(0.93,1)" font-size="9.4" text-anchor="middle" fill="#1a1a1a">0</text>
<text transform="translate(456.98,1138.4) scale(0.93,1)" font-size="9.4" text-anchor="middle" fill="#1a1a1a">0</text>
<text transform="translate(472.59,1138.4) scale(0.93,1)" font-size="9.4" text-anchor="middle" fill="#1a1a1a">0</text>
<text transform="translate(488.20,1138.4) scale(0.93,1)" font-size="9.4" text-anchor="middle" fill="#1a1a1a">0</text>
<path d="M69.9,1150.9 h17.3" stroke="#519a2a" stroke-width="1.8"/>
<text transform="translate(97.95,1153.8) scale(0.93,1)" font-size="9.4" text-anchor="middle" fill="#1a1a1a">75</text>
<text transform="translate(113.56,1153.8) scale(0.93,1)" font-size="9.4" text-anchor="middle" fill="#1a1a1a">60</text>
<text transform="translate(129.17,1153.8) scale(0.93,1)" font-size="9.4" text-anchor="middle" fill="#1a1a1a">43</text>
<text transform="translate(144.78,1153.8) scale(0.93,1)" font-size="9.4" text-anchor="middle" fill="#1a1a1a">36</text>
<text transform="translate(160.39,1153.8) scale(0.93,1)" font-size="9.4" text-anchor="middle" fill="#1a1a1a">28</text>
<text transform="translate(176.00,1153.8) scale(0.93,1)" font-size="9.4" text-anchor="middle" fill="#1a1a1a">23</text>
<text transform="translate(191.61,1153.8) scale(0.93,1)" font-size="9.4" text-anchor="middle" fill="#1a1a1a">20</text>
<text transform="translate(207.22,1153.8) scale(0.93,1)" font-size="9.4" text-anchor="middle" fill="#1a1a1a">20</text>
<text transform="translate(222.83,1153.8) scale(0.93,1)" font-size="9.4" text-anchor="middle" fill="#1a1a1a">14</text>
<text transform="translate(238.44,1153.8) scale(0.93,1)" font-size="9.4" text-anchor="middle" fill="#1a1a1a">12</text>
<text transform="translate(254.05,1153.8) scale(0.93,1)" font-size="9.4" text-anchor="middle" fill="#1a1a1a">8</text>
<text transform="translate(269.66,1153.8) scale(0.93,1)" font-size="9.4" text-anchor="middle" fill="#1a1a1a">5</text>
<text transform="translate(285.27,1153.8) scale(0.93,1)" font-size="9.4" text-anchor="middle" fill="#1a1a1a">2</text>
<text transform="translate(300.88,1153.8) scale(0.93,1)" font-size="9.4" text-anchor="middle" fill="#1a1a1a">1</text>
<text transform="translate(316.49,1153.8) scale(0.93,1)" font-size="9.4" text-anchor="middle" fill="#1a1a1a">1</text>
<text transform="translate(332.10,1153.8) scale(0.93,1)" font-size="9.4" text-anchor="middle" fill="#1a1a1a">0</text>
<text transform="translate(347.71,1153.8) scale(0.93,1)" font-size="9.4" text-anchor="middle" fill="#1a1a1a">0</text>
<text transform="translate(363.32,1153.8) scale(0.93,1)" font-size="9.4" text-anchor="middle" fill="#1a1a1a">0</text>
<text transform="translate(378.93,1153.8) scale(0.93,1)" font-size="9.4" text-anchor="middle" fill="#1a1a1a">0</text>
<text transform="translate(394.54,1153.8) scale(0.93,1)" font-size="9.4" text-anchor="middle" fill="#1a1a1a">0</text>
<text transform="translate(410.15,1153.8) scale(0.93,1)" font-size="9.4" text-anchor="middle" fill="#1a1a1a">0</text>
<text transform="translate(425.76,1153.8) scale(0.93,1)" font-size="9.4" text-anchor="middle" fill="#1a1a1a">0</text>
<text transform="translate(441.37,1153.8) scale(0.93,1)" font-size="9.4" text-anchor="middle" fill="#1a1a1a">0</text>
<text transform="translate(456.98,1153.8) scale(0.93,1)" font-size="9.4" text-anchor="middle" fill="#1a1a1a">0</text>
<text transform="translate(472.59,1153.8) scale(0.93,1)" font-size="9.4" text-anchor="middle" fill="#1a1a1a">0</text>
<text transform="translate(488.20,1153.8) scale(0.93,1)" font-size="9.4" text-anchor="middle" fill="#1a1a1a">0</text>
<rect x="1" y="1" width="518" height="1166" fill="none" stroke="#111" stroke-width="2"/>
</svg>
</body></html>
